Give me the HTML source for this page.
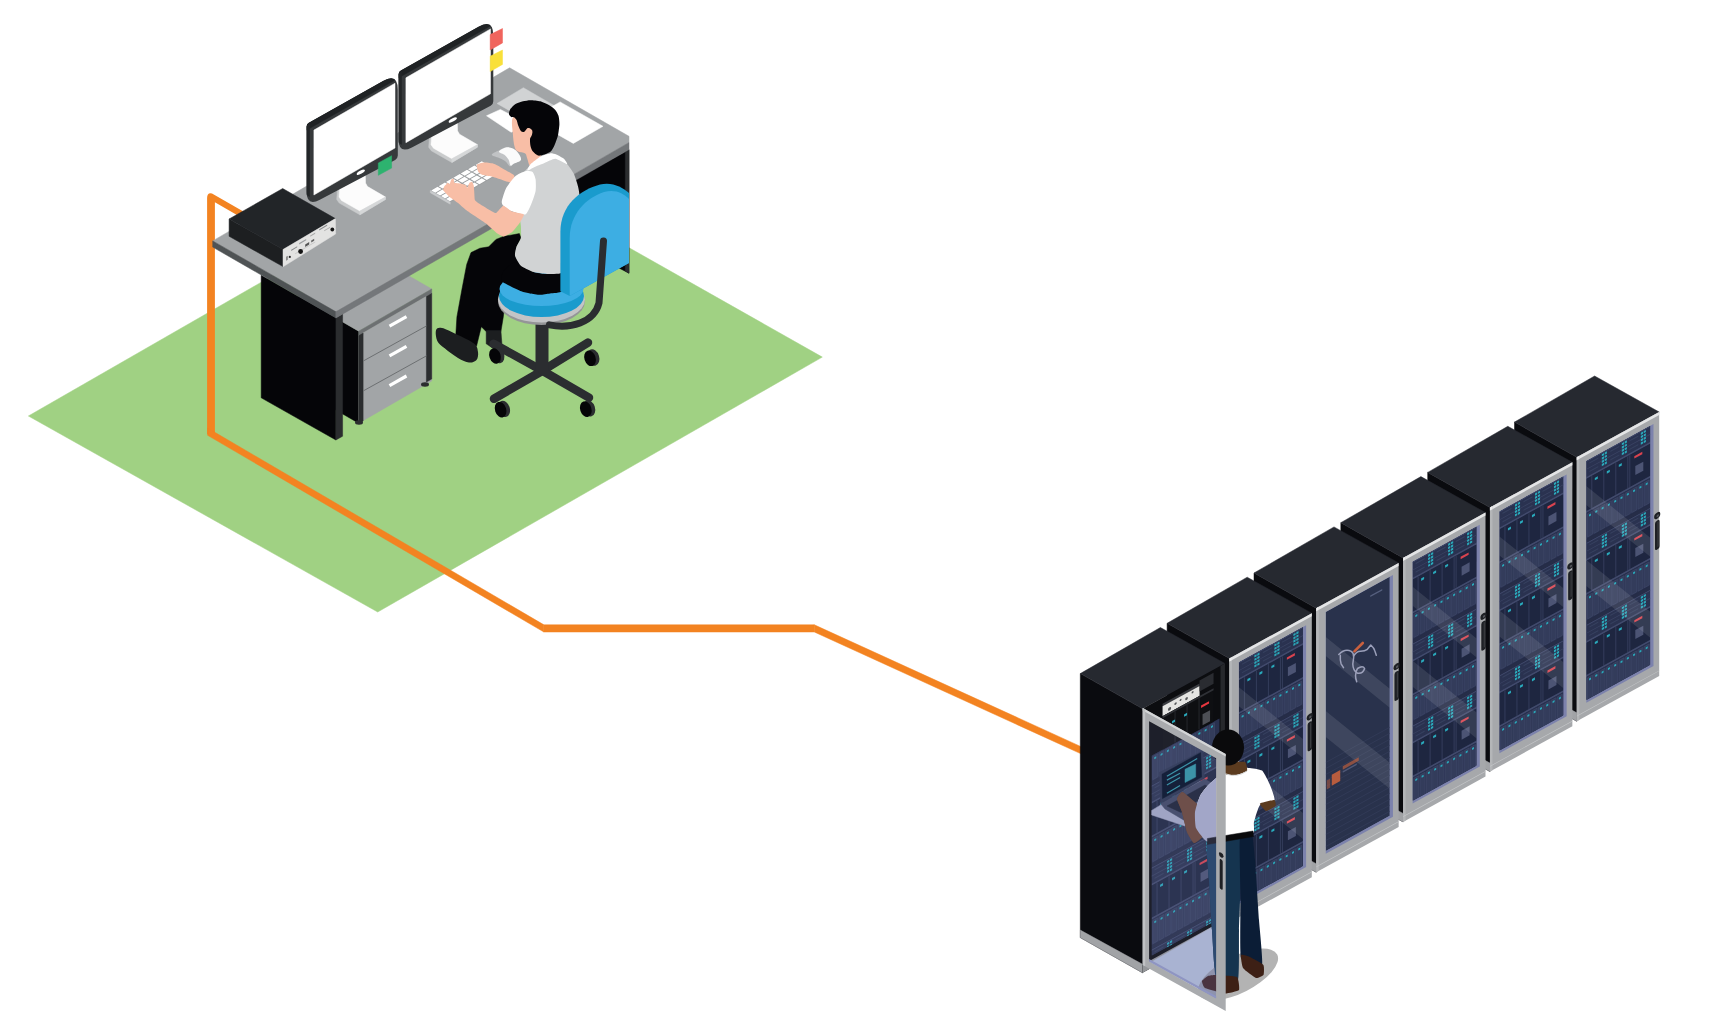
<!DOCTYPE html>
<html><head><meta charset="utf-8"><title>KVM extender scene</title><style>html,body{margin:0;padding:0;background:#fff;overflow:hidden;font-family:"Liberation Sans",sans-serif}svg{display:block}</style></head>
<body><svg width="1725" height="1023" viewBox="0 0 1725 1023">
<polygon points="28.4,416.0 474.0,160.0 822.3,357.1 377.7,612.0" fill="#a0d183"  stroke="#a0d183" stroke-width="0.5" stroke-linejoin="round"/>
<path d="M207.1,434 V198 Q207.1,192.2 212,193.4 L258,220 L258,227.2 L214.9,202.3 V434 Z" fill="#f38321"/>
<polygon points="207.6,428.1 543.5,624.6 543.5,631.8 207.6,435.3" fill="#f38321"  stroke="#f38321" stroke-width="0.5" stroke-linejoin="round"/>
<polygon points="543.5,624.8 814.3,624.8 814.3,632.0 543.5,632.0" fill="#f38321"  stroke="#f38321" stroke-width="0.5" stroke-linejoin="round"/>
<polygon points="814.3,624.8 1086.0,748.9 1086.0,756.1 814.3,632.0" fill="#f38321"  stroke="#f38321" stroke-width="0.5" stroke-linejoin="round"/>
<polygon points="515.0,214.0 629.0,149.6 629.0,273.2" fill="#050508"  stroke="#050508" stroke-width="0.5" stroke-linejoin="round"/>
<polygon points="625.3,151.6 629.0,149.6 629.0,273.2 625.3,271.0" fill="#2b2d2f"  stroke="#2b2d2f" stroke-width="0.5" stroke-linejoin="round"/>
<polygon points="298.7,296.6 358.7,331.2 358.7,423.2 298.7,388.6" fill="#050508"  stroke="#050508" stroke-width="0.5" stroke-linejoin="round"/>
<polygon points="298.7,296.6 371.7,254.4 431.7,289.0 358.7,331.2" fill="#a2a5a7"  stroke="#a2a5a7" stroke-width="0.5" stroke-linejoin="round"/>
<polygon points="358.7,331.2 431.7,289.0 431.7,293.5 358.7,335.7" fill="#6d7072"  stroke="#6d7072" stroke-width="0.5" stroke-linejoin="round"/>
<polygon points="358.7,335.5 431.7,293.3 431.7,381.0 358.7,423.2" fill="#a2a5a7"  stroke="#a2a5a7" stroke-width="0.5" stroke-linejoin="round"/>
<polygon points="358.7,335.5 363.1,333.0 363.1,421.0 358.7,423.5" fill="#2b2d2f"  stroke="#2b2d2f" stroke-width="0.5" stroke-linejoin="round"/>
<polygon points="426.4,296.4 431.7,293.3 431.7,379.0 426.4,382.0" fill="#2b2d2f"  stroke="#2b2d2f" stroke-width="0.5" stroke-linejoin="round"/>
<line x1="363.1" y1="361.1" x2="426.4" y2="326.0" stroke="#6d7072" stroke-width="1"/>
<line x1="363.1" y1="391.0" x2="426.4" y2="355.9" stroke="#6d7072" stroke-width="1"/>
<line x1="389.5" y1="326.2" x2="406.5" y2="316.6" stroke="#ffffff" stroke-width="3.2"/>
<line x1="389.5" y1="355.9" x2="406.5" y2="346.3" stroke="#ffffff" stroke-width="3.2"/>
<line x1="389.5" y1="385.6" x2="406.5" y2="376.0" stroke="#ffffff" stroke-width="3.2"/>
<polygon points="261.2,275.3 335.9,317.9 335.9,440.0 261.2,397.8" fill="#050508"  stroke="#050508" stroke-width="0.5" stroke-linejoin="round"/>
<polygon points="335.9,317.9 342.6,314.1 342.6,436.2 335.9,440.0" fill="#2b2d2f"  stroke="#2b2d2f" stroke-width="0.5" stroke-linejoin="round"/>
<ellipse cx="359" cy="422.5" rx="4" ry="2.2" fill="#2b2d2f"/>
<ellipse cx="425" cy="384.5" rx="4" ry="2.2" fill="#2b2d2f"/>
<polygon points="212.7,240.9 509.6,67.8 629.0,136.3 629.0,142.5 335.9,311.8" fill="#a2a5a7"  stroke="#a2a5a7" stroke-width="0.5" stroke-linejoin="round"/>
<polygon points="212.7,240.9 335.9,311.8 335.9,317.9 212.7,247.1" fill="#4f5355"  stroke="#4f5355" stroke-width="0.5" stroke-linejoin="round"/>
<polygon points="335.9,311.8 629.0,142.5 629.0,149.6 335.9,317.9" fill="#74777a"  stroke="#74777a" stroke-width="0.5" stroke-linejoin="round"/>
<polygon points="229.1,219.0 283.0,249.5 283.0,266.6 229.1,236.3" fill="#1d1f21"  stroke="#1d1f21" stroke-width="0.5" stroke-linejoin="round"/>
<polygon points="229.1,219.0 282.7,188.5 335.4,218.6 283.0,249.5" fill="#222528"  stroke="#222528" stroke-width="0.5" stroke-linejoin="round"/>
<polygon points="283.0,249.5 335.4,218.6 335.6,234.0 283.0,266.8" fill="#e3e3e2"  stroke="#e3e3e2" stroke-width="0.5" stroke-linejoin="round"/>
<g transform="matrix(1,-0.588,0,1,283.2,249.4)">
<rect x="8.0" y="5.0" width="6.0" height="1.2" fill="#8a8c8e"/>
<rect x="16.0" y="3.0" width="7.0" height="1.4" fill="#9a9c9e"/>
<rect x="27.0" y="2.0" width="5.0" height="1.2" fill="#aaaaaa"/>
<rect x="36.0" y="1.0" width="8.0" height="1.3" fill="#8a8c8e"/>
<rect x="41.0" y="5.0" width="6.0" height="1.0" fill="#b0b0b0"/>
<rect x="3.0" y="9.0" width="1.5" height="4.0" fill="#777"/>
<rect x="22.0" y="8.0" width="4.0" height="2.5" fill="#555"/>
<rect x="28.0" y="7.5" width="3.0" height="2.0" fill="#666"/>
<rect x="12.0" y="11.0" width="20.0" height="1.0" fill="#c8c8c8"/>
</g>
<circle cx="300.6" cy="251.5" r="2.4" fill="#141414"/>
<circle cx="289.8" cy="256.9" r="1.1" fill="#2a2a2a"/>
<circle cx="332.3" cy="229.5" r="1.9" fill="#141414"/>
<g transform="translate(92.0,-52.3)">
<polygon points="337.4,190.0 336.7,199.5 339.2,203.0 357.6,213.5 359.9,214.8 385.4,199.5 385.4,197.0 365.0,185.5 365.2,175.0" fill="#c9cbcc"  stroke="#c9cbcc" stroke-width="0.5" stroke-linejoin="round"/>
<polygon points="339.7,187.4 339.0,197.0 341.5,200.5 359.9,211.0 385.4,197.0 367.5,186.5 365.5,183.0 365.2,172.4" fill="#fcfcfc"  stroke="#fcfcfc" stroke-width="0.5" stroke-linejoin="round"/>
<polygon points="359.9,211.0 385.4,197.0 385.4,199.5 359.9,214.8" fill="#d5d7d8"  stroke="#d5d7d8" stroke-width="0.5" stroke-linejoin="round"/>
</g>
<defs><clipPath id="mon92"><path d="M398.60,74.30 Q398.60,71.80 400.78,70.57 L478.50,26.68 Q493.30,18.32 493.30,35.32 L493.30,101.27 Q493.30,104.27 490.65,105.68 L411.86,147.38 Q398.60,154.40 398.60,139.40 Z"/></clipPath></defs>
<path d="M398.60,74.30 Q398.60,71.80 400.78,70.57 L478.50,26.68 Q493.30,18.32 493.30,35.32 L493.30,101.27 Q493.30,104.27 490.65,105.68 L411.86,147.38 Q398.60,154.40 398.60,139.40 Z" fill="#36393b"/>
<g clip-path="url(#mon92)">
<polygon points="398.6,71.8 493.3,18.3 493.3,24.3 398.6,77.8" fill="#1f2224"  stroke="#1f2224" stroke-width="0.5" stroke-linejoin="round"/>
</g>
<path d="M398.60,74.70 Q398.60,73.70 399.36,73.06 L401.80,71.00 Q401.80,71.00 401.80,71.00 L401.80,144.70 Q401.80,144.70 401.80,144.70 L399.45,143.23 Q398.60,142.70 398.60,141.70 Z" fill="#232628"/>
<polygon points="405.9,77.8 490.5,28.9 490.5,93.8 405.9,142.7" fill="#ffffff"  stroke="#ffffff" stroke-width="0.5" stroke-linejoin="round"/>
<ellipse cx="452.8" cy="119.9" rx="4.6" ry="1.6" transform="rotate(-29 452.8 119.9)" fill="#ffffff"/>
<polygon points="490.2,34.6 502.5,28.5 502.5,42.9 490.2,50.0" fill="#f0645d"  stroke="#f0645d" stroke-width="0.5" stroke-linejoin="round"/>
<polygon points="490.2,56.2 502.5,50.0 502.5,64.4 490.2,71.6" fill="#f9e03a"  stroke="#f9e03a" stroke-width="0.5" stroke-linejoin="round"/>
<g transform="translate(0.0,0.0)">
<polygon points="337.4,190.0 336.7,199.5 339.2,203.0 357.6,213.5 359.9,214.8 385.4,199.5 385.4,197.0 365.0,185.5 365.2,175.0" fill="#c9cbcc"  stroke="#c9cbcc" stroke-width="0.5" stroke-linejoin="round"/>
<polygon points="339.7,187.4 339.0,197.0 341.5,200.5 359.9,211.0 385.4,197.0 367.5,186.5 365.5,183.0 365.2,172.4" fill="#fcfcfc"  stroke="#fcfcfc" stroke-width="0.5" stroke-linejoin="round"/>
<polygon points="359.9,211.0 385.4,197.0 385.4,199.5 359.9,214.8" fill="#d5d7d8"  stroke="#d5d7d8" stroke-width="0.5" stroke-linejoin="round"/>
</g>
<defs><clipPath id="mon0"><path d="M306.60,126.60 Q306.60,124.10 308.78,122.87 L383.00,80.96 Q397.80,72.60 397.80,89.60 L397.80,155.50 Q397.80,158.50 395.15,159.90 L319.86,199.69 Q306.60,206.70 306.60,191.70 Z"/></clipPath></defs>
<path d="M306.60,126.60 Q306.60,124.10 308.78,122.87 L383.00,80.96 Q397.80,72.60 397.80,89.60 L397.80,155.50 Q397.80,158.50 395.15,159.90 L319.86,199.69 Q306.60,206.70 306.60,191.70 Z" fill="#36393b"/>
<g clip-path="url(#mon0)">
<polygon points="306.6,124.1 397.8,72.6 397.8,78.6 306.6,130.1" fill="#1f2224"  stroke="#1f2224" stroke-width="0.5" stroke-linejoin="round"/>
</g>
<path d="M306.60,127.00 Q306.60,126.00 307.36,125.36 L309.80,123.30 Q309.80,123.30 309.80,123.30 L309.80,197.00 Q309.80,197.00 309.80,197.00 L307.45,195.53 Q306.60,195.00 306.60,194.00 Z" fill="#232628"/>
<polygon points="313.9,130.1 395.0,83.2 395.0,148.0 313.9,195.0" fill="#ffffff"  stroke="#ffffff" stroke-width="0.5" stroke-linejoin="round"/>
<ellipse cx="360.8" cy="172.2" rx="4.6" ry="1.6" transform="rotate(-29 360.8 172.2)" fill="#ffffff"/>
<polygon points="378.3,163.0 391.6,155.7 391.6,168.1 378.3,175.3" fill="#2db36f"  stroke="#2db36f" stroke-width="0.5" stroke-linejoin="round"/>
<polygon points="497.0,103.5 523.4,87.7 566.4,112.7 540.0,128.0" fill="#d1d3d4"  stroke="#d1d3d4" stroke-width="0.5" stroke-linejoin="round"/>
<polygon points="486.5,115.8 500.4,109.4 528.0,124.0 511.2,132.3" fill="#ffffff"  stroke="#ffffff" stroke-width="0.5" stroke-linejoin="round"/>
<polygon points="560.1,101.9 603.0,126.3 573.3,143.4 530.3,119.0" fill="#ffffff"  stroke="#ffffff" stroke-width="0.5" stroke-linejoin="round"/>
<g transform="matrix(0.866,-0.5,0.866,0.5,430.3,190.4)">
<rect x="0" y="0" width="59.5" height="23" fill="#9a9d9f"/>
<rect x="0.5" y="0.6" width="7.3" height="4.6" fill="#ffffff"/>
<rect x="9.0" y="0.6" width="7.3" height="4.6" fill="#ffffff"/>
<rect x="17.5" y="0.6" width="7.3" height="4.6" fill="#ffffff"/>
<rect x="26.0" y="0.6" width="7.3" height="4.6" fill="#ffffff"/>
<rect x="34.5" y="0.6" width="7.3" height="4.6" fill="#ffffff"/>
<rect x="43.0" y="0.6" width="7.3" height="4.6" fill="#ffffff"/>
<rect x="51.5" y="0.6" width="7.3" height="4.6" fill="#ffffff"/>
<rect x="0.5" y="6.2" width="7.3" height="4.6" fill="#ffffff"/>
<rect x="9.0" y="6.2" width="7.3" height="4.6" fill="#ffffff"/>
<rect x="17.5" y="6.2" width="7.3" height="4.6" fill="#ffffff"/>
<rect x="26.0" y="6.2" width="7.3" height="4.6" fill="#ffffff"/>
<rect x="34.5" y="6.2" width="7.3" height="4.6" fill="#ffffff"/>
<rect x="43.0" y="6.2" width="7.3" height="4.6" fill="#ffffff"/>
<rect x="51.5" y="6.2" width="7.3" height="4.6" fill="#ffffff"/>
<rect x="0.5" y="11.9" width="7.3" height="4.6" fill="#ffffff"/>
<rect x="9.0" y="11.9" width="7.3" height="4.6" fill="#ffffff"/>
<rect x="17.5" y="11.9" width="7.3" height="4.6" fill="#ffffff"/>
<rect x="26.0" y="11.9" width="7.3" height="4.6" fill="#ffffff"/>
<rect x="34.5" y="11.9" width="7.3" height="4.6" fill="#ffffff"/>
<rect x="43.0" y="11.9" width="7.3" height="4.6" fill="#ffffff"/>
<rect x="51.5" y="11.9" width="7.3" height="4.6" fill="#ffffff"/>
<rect x="0.5" y="17.6" width="7.3" height="4.6" fill="#ffffff"/>
<rect x="9.0" y="17.6" width="7.3" height="4.6" fill="#ffffff"/>
<rect x="17.5" y="17.6" width="7.3" height="4.6" fill="#ffffff"/>
<rect x="26.0" y="17.6" width="7.3" height="4.6" fill="#ffffff"/>
<rect x="34.5" y="17.6" width="7.3" height="4.6" fill="#ffffff"/>
<rect x="43.0" y="17.6" width="7.3" height="4.6" fill="#ffffff"/>
<rect x="51.5" y="17.6" width="7.3" height="4.6" fill="#ffffff"/>
</g>
<polygon points="430.3,190.4 450.2,201.9 450.2,204.2 430.3,192.7" fill="#c9cbcd"  stroke="#c9cbcd" stroke-width="0.5" stroke-linejoin="round"/>
<path d="M491.8,154.5 C492.1,153.2 497.6,151.2 500.0,150.0 C502.4,148.8 503.8,147.8 506.0,147.6 C508.2,147.4 510.9,147.9 513.0,149.0 C515.1,150.1 517.2,152.2 518.5,154.0 C519.8,155.8 521.6,158.3 520.9,159.9 C520.1,161.5 515.8,162.4 514.0,163.5 C512.2,164.6 511.6,166.7 510.1,166.3 C508.6,165.9 507.0,162.5 505.0,161.0 C503.0,159.5 500.2,158.6 498.0,157.5 C495.8,156.4 491.5,155.8 491.8,154.5 Z" fill="#c1c3c5" />
<path d="M499.0,151.5 C499.3,150.3 503.5,148.0 505.8,147.5 C508.1,147.0 510.9,147.6 513.0,148.6 C515.1,149.6 517.2,151.6 518.5,153.5 C519.8,155.4 521.6,158.2 520.9,159.9 C520.1,161.6 515.7,162.6 514.0,163.5 C512.3,164.4 511.4,166.2 510.5,165.5 C509.6,164.8 509.6,161.3 508.5,159.5 C507.4,157.7 505.6,155.8 504.0,154.5 C502.4,153.2 498.7,152.7 499.0,151.5 Z" fill="#fbfbfb" />
<polygon points="471.0,252.6 479.9,248.2 488.7,246.8 496.0,239.4 503.3,236.5 519.4,233.6 520.9,238.0 516.5,246.8 515.0,255.6 520.9,265.8 532.6,271.7 547.3,273.9 562.0,273.0 562.0,292.0 532.6,292.0 510.0,290.0 505.8,294.9 503.3,316.9 500.9,331.6 486.2,331.6 481.3,326.7 476.5,346.3 455.7,336.5 456.9,316.9 461.8,290.0 466.7,264.4" fill="#050508"  stroke="#050508" stroke-width="0.5" stroke-linejoin="round"/>
<path d="M436.1,330.1 C436.9,328.0 438.5,327.3 442.0,328.0 C445.5,328.7 451.6,331.9 456.9,334.5 C462.2,337.1 470.5,340.6 474.0,343.5 C477.5,346.4 477.6,349.2 478.0,352.0 C478.4,354.8 478.0,358.2 476.5,360.0 C475.0,361.8 472.1,362.8 469.0,362.5 C465.9,362.2 462.1,360.4 458.0,358.0 C453.9,355.6 448.1,351.2 444.7,348.3 C441.2,345.4 438.7,343.9 437.3,340.9 C435.9,337.9 435.3,332.2 436.1,330.1 Z" fill="#1c1e20" />
<polygon points="486.2,330.4 500.9,330.4 502.1,346.3 493.6,348.7 486.2,343.8" fill="#1c1e20"  stroke="#1c1e20" stroke-width="0.5" stroke-linejoin="round"/>
<g stroke="#2b2d30" stroke-width="8.5" stroke-linecap="round">
<line x1="542.5" y1="370.7" x2="493.5" y2="343.8"/>
<line x1="542.5" y1="370.7" x2="588.0" y2="342.6"/>
<line x1="542.5" y1="370.7" x2="494.0" y2="398.8"/>
<line x1="542.5" y1="370.7" x2="589.0" y2="397.6"/>
</g>
<rect x="535.5" y="315" width="13" height="56" fill="#2b2d30"/>
<ellipse cx="498.2" cy="355.2" rx="6" ry="8.3" transform="rotate(-18 498.2 355.2)" fill="#2b2d30"/>
<ellipse cx="495.0" cy="356.0" rx="5.6" ry="8" transform="rotate(-18 495.0 356.0)" fill="#050507"/>
<ellipse cx="593.2" cy="357.5" rx="6" ry="8.3" transform="rotate(-18 593.2 357.5)" fill="#2b2d30"/>
<ellipse cx="590.0" cy="358.3" rx="5.6" ry="8" transform="rotate(-18 590.0 358.3)" fill="#050507"/>
<ellipse cx="503.8" cy="408.9" rx="6" ry="8.3" transform="rotate(-18 503.8 408.9)" fill="#2b2d30"/>
<ellipse cx="500.6" cy="409.7" rx="5.6" ry="8" transform="rotate(-18 500.6 409.7)" fill="#050507"/>
<ellipse cx="589.0" cy="408.4" rx="6" ry="8.3" transform="rotate(-18 589.0 408.4)" fill="#2b2d30"/>
<ellipse cx="585.8" cy="409.2" rx="5.6" ry="8" transform="rotate(-18 585.8 409.2)" fill="#050507"/>
<ellipse cx="541.5" cy="301" rx="43.5" ry="24" fill="#949597"/>
<ellipse cx="541.5" cy="299.5" rx="43.5" ry="23" fill="#c3c4c6"/>
<ellipse cx="541.5" cy="296" rx="42.5" ry="21" fill="#1a9bcd"/>
<ellipse cx="541.5" cy="289" rx="42" ry="17" fill="#3daee3"/>
<path d="M501.7,281.1 C501.0,279.7 501.7,273.9 503.0,272.0 C504.3,270.1 512.0,262.0 515.0,262.0 C518.0,262.0 529.4,270.5 532.6,271.7 C535.8,272.9 544.4,273.8 547.3,273.9 C550.2,274.0 560.5,271.3 562.0,273.0 C563.5,274.7 563.2,288.9 562.0,291.0 C560.8,293.1 552.2,293.1 550.0,293.5 C547.8,293.9 542.0,294.8 540.0,294.8 C538.0,294.8 531.9,293.9 530.0,293.5 C528.1,293.1 523.3,292.1 521.3,291.3 C519.3,290.6 512.0,287.0 510.0,286.0 C508.0,285.0 502.4,282.5 501.7,281.1 Z" fill="#050508" />
<path d="M512.3,119.0 C511.4,122.2 512.4,128.5 512.8,133.0 C513.1,137.5 513.6,142.8 514.4,145.9 C515.2,149.0 515.8,150.1 517.6,151.3 C519.4,152.6 523.6,152.2 525.2,153.4 C526.8,154.7 526.4,156.7 527.3,158.8 C528.2,160.9 528.7,165.8 530.5,166.0 C532.3,166.2 536.4,162.0 538.1,160.0 C539.9,158.0 541.5,157.3 541.0,154.0 C540.5,150.7 537.2,145.0 535.0,140.0 C532.8,135.0 530.8,128.3 528.0,124.0 C525.2,119.7 520.6,114.8 518.0,114.0 C515.4,113.2 513.2,115.8 512.3,119.0 Z" fill="#f8bea6" />
<path d="M509.0,114.2 C508.9,113.3 509.3,110.6 510.1,109.4 C510.9,108.2 514.0,104.9 515.5,104.0 C517.0,103.1 521.2,101.7 523.0,101.3 C524.8,100.9 528.5,100.2 530.5,100.2 C532.5,100.2 538.1,100.7 540.2,101.3 C542.3,101.9 547.0,104.0 548.8,105.0 C550.6,106.0 554.2,108.6 555.3,109.9 C556.4,111.2 558.0,114.1 558.5,115.8 C559.0,117.5 559.5,122.1 559.4,124.4 C559.3,126.7 558.5,132.8 558.0,135.2 C557.5,137.6 555.5,142.9 554.7,144.8 C553.9,146.7 552.2,150.2 551.0,151.3 C549.8,152.4 546.0,154.0 544.5,154.5 C543.0,155.0 539.4,156.0 538.0,155.6 C536.6,155.2 533.6,152.4 532.7,151.3 C531.8,150.2 530.8,147.3 530.5,145.9 C530.2,144.5 529.9,141.0 530.0,139.5 C530.1,138.0 531.1,134.3 531.2,133.0 C531.3,131.7 531.0,129.3 530.5,128.7 C530.0,128.1 528.0,127.8 527.3,128.2 C526.6,128.6 524.8,131.6 524.1,131.9 C523.4,132.2 521.6,131.6 520.9,130.9 C520.2,130.2 518.7,126.8 518.2,125.5 C517.7,124.2 517.0,121.0 516.6,120.1 C516.2,119.2 515.0,117.8 514.4,117.4 C513.8,117.0 511.8,117.3 511.2,116.9 C510.6,116.5 509.1,115.1 509.0,114.2 Z" fill="#050508" />
<ellipse cx="529" cy="133.5" rx="3.2" ry="4.8" transform="rotate(15 529 133.5)" fill="#f8bea6"/>
<path d="M476.9,164.7 C477.5,163.8 482.5,162.6 484.3,162.5 C486.1,162.4 492.3,163.1 494.5,163.9 C496.7,164.7 504.2,169.3 506.2,170.5 C508.2,171.7 513.9,174.5 514.3,175.7 C514.7,176.9 512.0,181.9 510.6,182.3 C509.2,182.7 502.3,179.9 500.4,179.3 C498.5,178.7 493.4,176.8 491.6,176.4 C489.8,176.0 484.1,175.3 482.8,174.9 C481.5,174.5 479.0,173.0 478.4,172.0 C477.8,171.0 476.3,165.6 476.9,164.7 Z" fill="#f8bea6" />
<path d="M528.2,167.6 C530.2,165.6 537.4,159.3 540.0,158.0 C542.6,156.7 552.0,153.9 554.6,154.4 C557.2,154.9 564.5,161.3 566.4,163.2 C568.3,165.1 572.5,171.2 573.7,173.5 C574.9,175.8 577.5,184.0 578.1,186.7 C578.7,189.3 579.8,194.7 579.6,200.0 C579.4,205.3 577.2,233.5 576.0,240.0 C574.8,246.5 569.5,261.7 568.0,265.0 C566.5,268.3 562.6,272.3 560.5,273.2 C558.4,274.1 550.1,274.0 547.3,273.9 C544.5,273.8 535.2,272.5 532.6,271.7 C530.0,270.9 522.7,267.4 520.9,265.8 C519.1,264.2 515.4,257.5 515.0,255.6 C514.6,253.7 515.9,248.6 516.5,246.8 C517.1,245.0 520.5,240.1 520.9,238.0 C521.3,235.9 521.0,228.4 520.9,226.2 C520.8,224.0 519.9,219.1 519.4,216.0 C518.9,212.9 515.9,198.8 516.0,195.0 C516.1,191.2 518.8,180.7 520.0,178.0 C521.2,175.3 526.2,169.6 528.2,167.6 Z" fill="#d1d3d4" />
<path d="M527.3,170.6 C527.0,170.3 529.2,165.6 530.5,164.2 C531.8,162.8 538.3,157.8 540.2,156.7 C542.1,155.6 548.3,153.6 549.9,153.4 C551.5,153.2 554.9,154.0 556.3,154.5 C557.7,155.0 562.8,157.8 563.9,158.8 C565.0,159.8 568.0,164.2 567.1,164.2 C566.2,164.2 557.6,158.9 555.3,158.8 C553.0,158.7 546.6,162.2 544.5,163.1 C542.4,164.0 535.5,166.7 533.8,167.4 C532.1,168.2 527.6,170.9 527.3,170.6 Z" fill="#ffffff" />
<path d="M501.8,201.3 C502.1,199.5 504.9,190.6 506.2,188.1 C507.5,185.6 513.1,178.1 515.0,176.4 C516.9,174.7 523.5,171.7 525.3,171.3 C527.1,170.9 531.6,171.2 532.6,172.0 C533.6,172.8 535.3,177.4 535.6,179.3 C535.9,181.2 536.0,188.6 535.6,191.1 C535.2,193.6 532.2,202.0 531.2,204.3 C530.2,206.6 527.2,213.8 525.3,214.5 C523.4,215.2 514.3,212.5 512.1,211.6 C509.9,210.7 504.3,206.7 503.3,205.7 C502.3,204.7 501.5,203.1 501.8,201.3 Z" fill="#ffffff" />
<path d="M443.2,189.9 C443.2,189.5 444.1,186.7 444.3,186.3 C444.5,185.9 445.9,184.8 446.1,184.6 C446.3,184.4 447.1,182.8 447.3,182.8 C447.5,182.8 449.3,184.2 449.6,184.0 C449.9,183.8 451.1,179.7 451.4,179.3 C451.7,178.9 453.5,178.5 453.7,178.7 C453.9,178.9 453.9,182.5 454.3,182.8 C454.7,183.1 459.2,183.3 460.0,183.5 C460.8,183.7 465.5,184.9 466.0,185.2 C466.5,185.5 467.0,188.3 467.2,188.1 C467.4,187.9 469.2,183.2 469.5,182.8 C469.8,182.4 471.6,181.5 471.9,181.7 C472.2,181.9 473.5,184.6 473.7,185.2 C473.9,185.8 474.1,190.0 474.2,191.0 C474.3,192.0 474.6,199.0 474.8,199.8 C475.0,200.6 476.8,202.1 477.8,202.8 C478.8,203.5 488.3,209.3 489.5,210.0 C490.7,210.7 495.1,213.3 496.0,213.0 C496.9,212.7 502.2,205.8 503.3,205.7 C504.4,205.6 510.7,211.0 512.1,211.6 C513.5,212.2 523.3,213.7 523.8,214.5 C524.3,215.3 520.2,222.1 519.4,223.3 C518.6,224.5 513.2,231.2 512.1,232.1 C511.0,233.0 504.3,236.4 503.3,236.5 C502.3,236.6 498.6,234.5 497.4,233.6 C496.2,232.7 487.8,224.9 485.7,223.3 C483.6,221.7 467.9,211.4 466.0,210.0 C464.1,208.6 458.9,203.7 457.8,202.8 C456.7,201.9 450.5,197.6 449.6,196.9 C448.7,196.2 445.3,192.7 444.9,192.2 C444.5,191.7 443.2,190.3 443.2,189.9 Z" fill="#f8bea6" />
<path d="M560.4,291.3 L560.4,232 C560.4,205 580,190 600,184.5 C612,181.5 622,187 629,193 L629,263 L569.7,296 Z" fill="#1a9bcd"/>
<path d="M569.7,296 L569.7,238 C569.7,214 586,198 604,192 C615,189 623,193 629,199 L629,263 Z" fill="#3daee3"/>
<path d="M549.4,324.9 C570,329 594,323 599,303 L603.5,241" fill="none" stroke="#2b2d30" stroke-width="7" stroke-linecap="round"/>
<polygon points="1514.5,422.1 1576.8,457.3 1576.8,721.3 1514.5,686.1" fill="#0a0b0f"  stroke="#0a0b0f" stroke-width="0.5" stroke-linejoin="round"/>
<polygon points="1514.5,678.6 1576.8,712.8 1576.8,721.3 1514.5,686.1" fill="#a1a3a6"  stroke="#a1a3a6" stroke-width="0.5" stroke-linejoin="round"/>
<polygon points="1514.5,422.1 1594.6,376.0 1659.2,412.0 1576.8,457.3" fill="#262930"  stroke="#262930" stroke-width="0.5" stroke-linejoin="round"/>
<g transform="matrix(1,-0.550,0,1,1576.80,457.30)">
<rect x="0" y="0" width="82.4" height="264.0" fill="#a6a8ab"/>
<rect x="0" y="0" width="82.4" height="3" fill="#e4e5e6"/>
<rect x="0" y="0" width="2.5" height="264.0" fill="#b4b6b8"/>
<rect x="0" y="0" width="2.5" height="3" fill="#eeeeef"/>
<rect x="0" y="258.4" width="82.4" height="0.7" fill="#c4c6c8"/>
<rect x="9.5" y="9.0" width="67.2" height="241.8" fill="#7c82ac"/>
<svg x="9.5" y="9.0" width="64.0" height="239.0" overflow="hidden">
<rect x="0" y="0" width="64.0" height="239.0" fill="#222a44"/>
<rect x="0" y="-0.0" width="64.0" height="16" fill="#2a3250"/>
<rect x="0" y="-0.0" width="64.0" height="1" fill="#414a6c"/>
<rect x="0" y="8.0" width="64.0" height="0.8" fill="#3a4363"/>
<rect x="15.5" y="1.6" width="2.2" height="2.2" fill="#2aa9bb"/>
<rect x="18.4" y="1.6" width="2.2" height="2.2" fill="#2aa9bb"/>
<rect x="15.5" y="4.9" width="2.2" height="2.2" fill="#2aa9bb"/>
<rect x="18.4" y="4.9" width="2.2" height="2.2" fill="#2aa9bb"/>
<rect x="15.5" y="8.2" width="2.2" height="2.2" fill="#2aa9bb"/>
<rect x="18.4" y="8.2" width="2.2" height="2.2" fill="#2aa9bb"/>
<rect x="15.5" y="11.5" width="2.2" height="2.2" fill="#2aa9bb"/>
<rect x="18.4" y="11.5" width="2.2" height="2.2" fill="#2aa9bb"/>
<rect x="35.5" y="1.6" width="2.2" height="2.2" fill="#2aa9bb"/>
<rect x="38.4" y="1.6" width="2.2" height="2.2" fill="#2aa9bb"/>
<rect x="35.5" y="4.9" width="2.2" height="2.2" fill="#2aa9bb"/>
<rect x="38.4" y="4.9" width="2.2" height="2.2" fill="#2aa9bb"/>
<rect x="35.5" y="8.2" width="2.2" height="2.2" fill="#2aa9bb"/>
<rect x="38.4" y="8.2" width="2.2" height="2.2" fill="#2aa9bb"/>
<rect x="35.5" y="11.5" width="2.2" height="2.2" fill="#2aa9bb"/>
<rect x="38.4" y="11.5" width="2.2" height="2.2" fill="#2aa9bb"/>
<rect x="54.5" y="1.6" width="2.2" height="2.2" fill="#2aa9bb"/>
<rect x="57.4" y="1.6" width="2.2" height="2.2" fill="#2aa9bb"/>
<rect x="54.5" y="4.9" width="2.2" height="2.2" fill="#2aa9bb"/>
<rect x="57.4" y="4.9" width="2.2" height="2.2" fill="#2aa9bb"/>
<rect x="54.5" y="8.2" width="2.2" height="2.2" fill="#2aa9bb"/>
<rect x="57.4" y="8.2" width="2.2" height="2.2" fill="#2aa9bb"/>
<rect x="54.5" y="11.5" width="2.2" height="2.2" fill="#2aa9bb"/>
<rect x="57.4" y="11.5" width="2.2" height="2.2" fill="#2aa9bb"/>
<rect x="3.0" y="3.0" width="9" height="1.2" fill="#36405f"/>
<rect x="3.0" y="11.5" width="9" height="1.2" fill="#36405f"/>
<rect x="24.0" y="3.0" width="9" height="1.2" fill="#36405f"/>
<rect x="24.0" y="11.5" width="9" height="1.2" fill="#36405f"/>
<rect x="43.0" y="3.0" width="9" height="1.2" fill="#36405f"/>
<rect x="43.0" y="11.5" width="9" height="1.2" fill="#36405f"/>
<rect x="0" y="16.0" width="64.0" height="2" fill="#414a6c"/>
<rect x="0" y="18.0" width="64.0" height="32" fill="#1e2640"/>
<rect x="5.0" y="18.0" width="1" height="32" fill="#343d5c"/>
<rect x="17.0" y="18.0" width="1" height="32" fill="#343d5c"/>
<rect x="29.0" y="18.0" width="1" height="32" fill="#343d5c"/>
<rect x="41.0" y="18.0" width="1" height="32" fill="#343d5c"/>
<rect x="43.0" y="18.0" width="1" height="32" fill="#343d5c"/>
<rect x="8.5" y="21.5" width="3" height="2.4" fill="#2aa9bb"/>
<rect x="20.5" y="21.5" width="3" height="2.4" fill="#2aa9bb"/>
<rect x="32.5" y="21.5" width="3" height="2.4" fill="#2aa9bb"/>
<rect x="48" y="21.5" width="8" height="2.4" fill="#d9434f"/>
<rect x="49" y="32.0" width="8" height="9" fill="#4c5474"/>
<rect x="0" y="50.0" width="64.0" height="2" fill="#414a6c"/>
<rect x="0" y="52.0" width="64.0" height="26" fill="#29314f"/>
<rect x="1.2" y="53.5" width="5" height="23" fill="#333c5b" stroke="#3f4869" stroke-width="0.6"/>
<rect x="2.7" y="55.0" width="2" height="2" fill="#2aa9bb"/>
<rect x="7.5" y="53.5" width="5" height="23" fill="#333c5b" stroke="#3f4869" stroke-width="0.6"/>
<rect x="9.0" y="55.0" width="2" height="2" fill="#2aa9bb"/>
<rect x="13.8" y="53.5" width="5" height="23" fill="#333c5b" stroke="#3f4869" stroke-width="0.6"/>
<rect x="15.3" y="55.0" width="2" height="2" fill="#2aa9bb"/>
<rect x="20.1" y="53.5" width="5" height="23" fill="#333c5b" stroke="#3f4869" stroke-width="0.6"/>
<rect x="21.6" y="55.0" width="2" height="2" fill="#2aa9bb"/>
<rect x="26.4" y="53.5" width="5" height="23" fill="#333c5b" stroke="#3f4869" stroke-width="0.6"/>
<rect x="27.9" y="55.0" width="2" height="2" fill="#2aa9bb"/>
<rect x="32.7" y="53.5" width="5" height="23" fill="#333c5b" stroke="#3f4869" stroke-width="0.6"/>
<rect x="34.2" y="55.0" width="2" height="2" fill="#2aa9bb"/>
<rect x="39.0" y="53.5" width="5" height="23" fill="#333c5b" stroke="#3f4869" stroke-width="0.6"/>
<rect x="40.5" y="55.0" width="2" height="2" fill="#2aa9bb"/>
<rect x="45.3" y="53.5" width="5" height="23" fill="#333c5b" stroke="#3f4869" stroke-width="0.6"/>
<rect x="46.8" y="55.0" width="2" height="2" fill="#2aa9bb"/>
<rect x="51.6" y="53.5" width="5" height="23" fill="#333c5b" stroke="#3f4869" stroke-width="0.6"/>
<rect x="53.1" y="55.0" width="2" height="2" fill="#2aa9bb"/>
<rect x="57.9" y="53.5" width="5" height="23" fill="#333c5b" stroke="#3f4869" stroke-width="0.6"/>
<rect x="59.4" y="55.0" width="2" height="2" fill="#2aa9bb"/>
<rect x="0" y="78.0" width="64.0" height="4" fill="#262d48"/>
<rect x="0" y="82.0" width="64.0" height="16" fill="#2a3250"/>
<rect x="0" y="82.0" width="64.0" height="1" fill="#414a6c"/>
<rect x="0" y="90.0" width="64.0" height="0.8" fill="#3a4363"/>
<rect x="15.5" y="83.6" width="2.2" height="2.2" fill="#2aa9bb"/>
<rect x="18.4" y="83.6" width="2.2" height="2.2" fill="#2aa9bb"/>
<rect x="15.5" y="86.9" width="2.2" height="2.2" fill="#2aa9bb"/>
<rect x="18.4" y="86.9" width="2.2" height="2.2" fill="#2aa9bb"/>
<rect x="15.5" y="90.2" width="2.2" height="2.2" fill="#2aa9bb"/>
<rect x="18.4" y="90.2" width="2.2" height="2.2" fill="#2aa9bb"/>
<rect x="15.5" y="93.5" width="2.2" height="2.2" fill="#2aa9bb"/>
<rect x="18.4" y="93.5" width="2.2" height="2.2" fill="#2aa9bb"/>
<rect x="35.5" y="83.6" width="2.2" height="2.2" fill="#2aa9bb"/>
<rect x="38.4" y="83.6" width="2.2" height="2.2" fill="#2aa9bb"/>
<rect x="35.5" y="86.9" width="2.2" height="2.2" fill="#2aa9bb"/>
<rect x="38.4" y="86.9" width="2.2" height="2.2" fill="#2aa9bb"/>
<rect x="35.5" y="90.2" width="2.2" height="2.2" fill="#2aa9bb"/>
<rect x="38.4" y="90.2" width="2.2" height="2.2" fill="#2aa9bb"/>
<rect x="35.5" y="93.5" width="2.2" height="2.2" fill="#2aa9bb"/>
<rect x="38.4" y="93.5" width="2.2" height="2.2" fill="#2aa9bb"/>
<rect x="54.5" y="83.6" width="2.2" height="2.2" fill="#2aa9bb"/>
<rect x="57.4" y="83.6" width="2.2" height="2.2" fill="#2aa9bb"/>
<rect x="54.5" y="86.9" width="2.2" height="2.2" fill="#2aa9bb"/>
<rect x="57.4" y="86.9" width="2.2" height="2.2" fill="#2aa9bb"/>
<rect x="54.5" y="90.2" width="2.2" height="2.2" fill="#2aa9bb"/>
<rect x="57.4" y="90.2" width="2.2" height="2.2" fill="#2aa9bb"/>
<rect x="54.5" y="93.5" width="2.2" height="2.2" fill="#2aa9bb"/>
<rect x="57.4" y="93.5" width="2.2" height="2.2" fill="#2aa9bb"/>
<rect x="3.0" y="85.0" width="9" height="1.2" fill="#36405f"/>
<rect x="3.0" y="93.5" width="9" height="1.2" fill="#36405f"/>
<rect x="24.0" y="85.0" width="9" height="1.2" fill="#36405f"/>
<rect x="24.0" y="93.5" width="9" height="1.2" fill="#36405f"/>
<rect x="43.0" y="85.0" width="9" height="1.2" fill="#36405f"/>
<rect x="43.0" y="93.5" width="9" height="1.2" fill="#36405f"/>
<rect x="0" y="98.0" width="64.0" height="2" fill="#414a6c"/>
<rect x="0" y="100.0" width="64.0" height="32" fill="#1e2640"/>
<rect x="5.0" y="100.0" width="1" height="32" fill="#343d5c"/>
<rect x="17.0" y="100.0" width="1" height="32" fill="#343d5c"/>
<rect x="29.0" y="100.0" width="1" height="32" fill="#343d5c"/>
<rect x="41.0" y="100.0" width="1" height="32" fill="#343d5c"/>
<rect x="43.0" y="100.0" width="1" height="32" fill="#343d5c"/>
<rect x="8.5" y="103.5" width="3" height="2.4" fill="#2aa9bb"/>
<rect x="20.5" y="103.5" width="3" height="2.4" fill="#2aa9bb"/>
<rect x="32.5" y="103.5" width="3" height="2.4" fill="#2aa9bb"/>
<rect x="48" y="103.5" width="8" height="2.4" fill="#d9434f"/>
<rect x="49" y="114.0" width="8" height="9" fill="#4c5474"/>
<rect x="0" y="132.0" width="64.0" height="2" fill="#414a6c"/>
<rect x="0" y="134.0" width="64.0" height="26" fill="#29314f"/>
<rect x="1.2" y="135.5" width="5" height="23" fill="#333c5b" stroke="#3f4869" stroke-width="0.6"/>
<rect x="2.7" y="137.0" width="2" height="2" fill="#2aa9bb"/>
<rect x="7.5" y="135.5" width="5" height="23" fill="#333c5b" stroke="#3f4869" stroke-width="0.6"/>
<rect x="9.0" y="137.0" width="2" height="2" fill="#2aa9bb"/>
<rect x="13.8" y="135.5" width="5" height="23" fill="#333c5b" stroke="#3f4869" stroke-width="0.6"/>
<rect x="15.3" y="137.0" width="2" height="2" fill="#2aa9bb"/>
<rect x="20.1" y="135.5" width="5" height="23" fill="#333c5b" stroke="#3f4869" stroke-width="0.6"/>
<rect x="21.6" y="137.0" width="2" height="2" fill="#2aa9bb"/>
<rect x="26.4" y="135.5" width="5" height="23" fill="#333c5b" stroke="#3f4869" stroke-width="0.6"/>
<rect x="27.9" y="137.0" width="2" height="2" fill="#2aa9bb"/>
<rect x="32.7" y="135.5" width="5" height="23" fill="#333c5b" stroke="#3f4869" stroke-width="0.6"/>
<rect x="34.2" y="137.0" width="2" height="2" fill="#2aa9bb"/>
<rect x="39.0" y="135.5" width="5" height="23" fill="#333c5b" stroke="#3f4869" stroke-width="0.6"/>
<rect x="40.5" y="137.0" width="2" height="2" fill="#2aa9bb"/>
<rect x="45.3" y="135.5" width="5" height="23" fill="#333c5b" stroke="#3f4869" stroke-width="0.6"/>
<rect x="46.8" y="137.0" width="2" height="2" fill="#2aa9bb"/>
<rect x="51.6" y="135.5" width="5" height="23" fill="#333c5b" stroke="#3f4869" stroke-width="0.6"/>
<rect x="53.1" y="137.0" width="2" height="2" fill="#2aa9bb"/>
<rect x="57.9" y="135.5" width="5" height="23" fill="#333c5b" stroke="#3f4869" stroke-width="0.6"/>
<rect x="59.4" y="137.0" width="2" height="2" fill="#2aa9bb"/>
<rect x="0" y="160.0" width="64.0" height="4" fill="#262d48"/>
<rect x="0" y="164.0" width="64.0" height="16" fill="#2a3250"/>
<rect x="0" y="164.0" width="64.0" height="1" fill="#414a6c"/>
<rect x="0" y="172.0" width="64.0" height="0.8" fill="#3a4363"/>
<rect x="15.5" y="165.6" width="2.2" height="2.2" fill="#2aa9bb"/>
<rect x="18.4" y="165.6" width="2.2" height="2.2" fill="#2aa9bb"/>
<rect x="15.5" y="168.9" width="2.2" height="2.2" fill="#2aa9bb"/>
<rect x="18.4" y="168.9" width="2.2" height="2.2" fill="#2aa9bb"/>
<rect x="15.5" y="172.2" width="2.2" height="2.2" fill="#2aa9bb"/>
<rect x="18.4" y="172.2" width="2.2" height="2.2" fill="#2aa9bb"/>
<rect x="15.5" y="175.5" width="2.2" height="2.2" fill="#2aa9bb"/>
<rect x="18.4" y="175.5" width="2.2" height="2.2" fill="#2aa9bb"/>
<rect x="35.5" y="165.6" width="2.2" height="2.2" fill="#2aa9bb"/>
<rect x="38.4" y="165.6" width="2.2" height="2.2" fill="#2aa9bb"/>
<rect x="35.5" y="168.9" width="2.2" height="2.2" fill="#2aa9bb"/>
<rect x="38.4" y="168.9" width="2.2" height="2.2" fill="#2aa9bb"/>
<rect x="35.5" y="172.2" width="2.2" height="2.2" fill="#2aa9bb"/>
<rect x="38.4" y="172.2" width="2.2" height="2.2" fill="#2aa9bb"/>
<rect x="35.5" y="175.5" width="2.2" height="2.2" fill="#2aa9bb"/>
<rect x="38.4" y="175.5" width="2.2" height="2.2" fill="#2aa9bb"/>
<rect x="54.5" y="165.6" width="2.2" height="2.2" fill="#2aa9bb"/>
<rect x="57.4" y="165.6" width="2.2" height="2.2" fill="#2aa9bb"/>
<rect x="54.5" y="168.9" width="2.2" height="2.2" fill="#2aa9bb"/>
<rect x="57.4" y="168.9" width="2.2" height="2.2" fill="#2aa9bb"/>
<rect x="54.5" y="172.2" width="2.2" height="2.2" fill="#2aa9bb"/>
<rect x="57.4" y="172.2" width="2.2" height="2.2" fill="#2aa9bb"/>
<rect x="54.5" y="175.5" width="2.2" height="2.2" fill="#2aa9bb"/>
<rect x="57.4" y="175.5" width="2.2" height="2.2" fill="#2aa9bb"/>
<rect x="3.0" y="167.0" width="9" height="1.2" fill="#36405f"/>
<rect x="3.0" y="175.5" width="9" height="1.2" fill="#36405f"/>
<rect x="24.0" y="167.0" width="9" height="1.2" fill="#36405f"/>
<rect x="24.0" y="175.5" width="9" height="1.2" fill="#36405f"/>
<rect x="43.0" y="167.0" width="9" height="1.2" fill="#36405f"/>
<rect x="43.0" y="175.5" width="9" height="1.2" fill="#36405f"/>
<rect x="0" y="180.0" width="64.0" height="2" fill="#414a6c"/>
<rect x="0" y="182.0" width="64.0" height="32" fill="#1e2640"/>
<rect x="5.0" y="182.0" width="1" height="32" fill="#343d5c"/>
<rect x="17.0" y="182.0" width="1" height="32" fill="#343d5c"/>
<rect x="29.0" y="182.0" width="1" height="32" fill="#343d5c"/>
<rect x="41.0" y="182.0" width="1" height="32" fill="#343d5c"/>
<rect x="43.0" y="182.0" width="1" height="32" fill="#343d5c"/>
<rect x="8.5" y="185.5" width="3" height="2.4" fill="#2aa9bb"/>
<rect x="20.5" y="185.5" width="3" height="2.4" fill="#2aa9bb"/>
<rect x="32.5" y="185.5" width="3" height="2.4" fill="#2aa9bb"/>
<rect x="48" y="185.5" width="8" height="2.4" fill="#d9434f"/>
<rect x="49" y="196.0" width="8" height="9" fill="#4c5474"/>
<rect x="0" y="214.0" width="64.0" height="2" fill="#414a6c"/>
<rect x="0" y="216.0" width="64.0" height="26" fill="#29314f"/>
<rect x="1.2" y="217.5" width="5" height="23" fill="#333c5b" stroke="#3f4869" stroke-width="0.6"/>
<rect x="2.7" y="219.0" width="2" height="2" fill="#2aa9bb"/>
<rect x="7.5" y="217.5" width="5" height="23" fill="#333c5b" stroke="#3f4869" stroke-width="0.6"/>
<rect x="9.0" y="219.0" width="2" height="2" fill="#2aa9bb"/>
<rect x="13.8" y="217.5" width="5" height="23" fill="#333c5b" stroke="#3f4869" stroke-width="0.6"/>
<rect x="15.3" y="219.0" width="2" height="2" fill="#2aa9bb"/>
<rect x="20.1" y="217.5" width="5" height="23" fill="#333c5b" stroke="#3f4869" stroke-width="0.6"/>
<rect x="21.6" y="219.0" width="2" height="2" fill="#2aa9bb"/>
<rect x="26.4" y="217.5" width="5" height="23" fill="#333c5b" stroke="#3f4869" stroke-width="0.6"/>
<rect x="27.9" y="219.0" width="2" height="2" fill="#2aa9bb"/>
<rect x="32.7" y="217.5" width="5" height="23" fill="#333c5b" stroke="#3f4869" stroke-width="0.6"/>
<rect x="34.2" y="219.0" width="2" height="2" fill="#2aa9bb"/>
<rect x="39.0" y="217.5" width="5" height="23" fill="#333c5b" stroke="#3f4869" stroke-width="0.6"/>
<rect x="40.5" y="219.0" width="2" height="2" fill="#2aa9bb"/>
<rect x="45.3" y="217.5" width="5" height="23" fill="#333c5b" stroke="#3f4869" stroke-width="0.6"/>
<rect x="46.8" y="219.0" width="2" height="2" fill="#2aa9bb"/>
<rect x="51.6" y="217.5" width="5" height="23" fill="#333c5b" stroke="#3f4869" stroke-width="0.6"/>
<rect x="53.1" y="219.0" width="2" height="2" fill="#2aa9bb"/>
<rect x="57.9" y="217.5" width="5" height="23" fill="#333c5b" stroke="#3f4869" stroke-width="0.6"/>
<rect x="59.4" y="219.0" width="2" height="2" fill="#2aa9bb"/>
<rect x="0" y="242.0" width="64.0" height="4" fill="#262d48"/>
<polygon points="0,25.0 0,44.0 64.0,131.0 64.0,112.0" fill="#ffffff" fill-opacity="0.1"/>
<polygon points="0,99.0 0,125.0 64.0,212.0 64.0,186.0" fill="#ffffff" fill-opacity="0.1"/>
</svg>
<circle cx="80.4" cy="102.5" r="3.1" fill="#1e2024"/>
<circle cx="80.9" cy="103" r="1.2" fill="#55575c"/>
<rect x="78.2" y="107.5" width="4.6" height="29" rx="2" fill="#1e2024"/>
<rect x="80.6" y="109" width="1.2" height="25" fill="#3a3c40"/>
</g>
<polygon points="1427.7,472.4 1490.0,507.6 1490.0,771.6 1427.7,736.4" fill="#0a0b0f"  stroke="#0a0b0f" stroke-width="0.5" stroke-linejoin="round"/>
<polygon points="1427.7,728.9 1490.0,763.1 1490.0,771.6 1427.7,736.4" fill="#a1a3a6"  stroke="#a1a3a6" stroke-width="0.5" stroke-linejoin="round"/>
<polygon points="1427.7,472.4 1507.8,426.3 1572.4,462.3 1490.0,507.6" fill="#262930"  stroke="#262930" stroke-width="0.5" stroke-linejoin="round"/>
<g transform="matrix(1,-0.550,0,1,1489.95,507.60)">
<rect x="0" y="0" width="82.4" height="264.0" fill="#a6a8ab"/>
<rect x="0" y="0" width="82.4" height="3" fill="#e4e5e6"/>
<rect x="0" y="0" width="2.5" height="264.0" fill="#b4b6b8"/>
<rect x="0" y="0" width="2.5" height="3" fill="#eeeeef"/>
<rect x="0" y="258.4" width="82.4" height="0.7" fill="#c4c6c8"/>
<rect x="9.5" y="9.0" width="67.2" height="241.8" fill="#7c82ac"/>
<svg x="9.5" y="9.0" width="64.0" height="239.0" overflow="hidden">
<rect x="0" y="0" width="64.0" height="239.0" fill="#222a44"/>
<rect x="0" y="-0.0" width="64.0" height="16" fill="#2a3250"/>
<rect x="0" y="-0.0" width="64.0" height="1" fill="#414a6c"/>
<rect x="0" y="8.0" width="64.0" height="0.8" fill="#3a4363"/>
<rect x="15.5" y="1.6" width="2.2" height="2.2" fill="#2aa9bb"/>
<rect x="18.4" y="1.6" width="2.2" height="2.2" fill="#2aa9bb"/>
<rect x="15.5" y="4.9" width="2.2" height="2.2" fill="#2aa9bb"/>
<rect x="18.4" y="4.9" width="2.2" height="2.2" fill="#2aa9bb"/>
<rect x="15.5" y="8.2" width="2.2" height="2.2" fill="#2aa9bb"/>
<rect x="18.4" y="8.2" width="2.2" height="2.2" fill="#2aa9bb"/>
<rect x="15.5" y="11.5" width="2.2" height="2.2" fill="#2aa9bb"/>
<rect x="18.4" y="11.5" width="2.2" height="2.2" fill="#2aa9bb"/>
<rect x="35.5" y="1.6" width="2.2" height="2.2" fill="#2aa9bb"/>
<rect x="38.4" y="1.6" width="2.2" height="2.2" fill="#2aa9bb"/>
<rect x="35.5" y="4.9" width="2.2" height="2.2" fill="#2aa9bb"/>
<rect x="38.4" y="4.9" width="2.2" height="2.2" fill="#2aa9bb"/>
<rect x="35.5" y="8.2" width="2.2" height="2.2" fill="#2aa9bb"/>
<rect x="38.4" y="8.2" width="2.2" height="2.2" fill="#2aa9bb"/>
<rect x="35.5" y="11.5" width="2.2" height="2.2" fill="#2aa9bb"/>
<rect x="38.4" y="11.5" width="2.2" height="2.2" fill="#2aa9bb"/>
<rect x="54.5" y="1.6" width="2.2" height="2.2" fill="#2aa9bb"/>
<rect x="57.4" y="1.6" width="2.2" height="2.2" fill="#2aa9bb"/>
<rect x="54.5" y="4.9" width="2.2" height="2.2" fill="#2aa9bb"/>
<rect x="57.4" y="4.9" width="2.2" height="2.2" fill="#2aa9bb"/>
<rect x="54.5" y="8.2" width="2.2" height="2.2" fill="#2aa9bb"/>
<rect x="57.4" y="8.2" width="2.2" height="2.2" fill="#2aa9bb"/>
<rect x="54.5" y="11.5" width="2.2" height="2.2" fill="#2aa9bb"/>
<rect x="57.4" y="11.5" width="2.2" height="2.2" fill="#2aa9bb"/>
<rect x="3.0" y="3.0" width="9" height="1.2" fill="#36405f"/>
<rect x="3.0" y="11.5" width="9" height="1.2" fill="#36405f"/>
<rect x="24.0" y="3.0" width="9" height="1.2" fill="#36405f"/>
<rect x="24.0" y="11.5" width="9" height="1.2" fill="#36405f"/>
<rect x="43.0" y="3.0" width="9" height="1.2" fill="#36405f"/>
<rect x="43.0" y="11.5" width="9" height="1.2" fill="#36405f"/>
<rect x="0" y="16.0" width="64.0" height="2" fill="#414a6c"/>
<rect x="0" y="18.0" width="64.0" height="32" fill="#1e2640"/>
<rect x="5.0" y="18.0" width="1" height="32" fill="#343d5c"/>
<rect x="17.0" y="18.0" width="1" height="32" fill="#343d5c"/>
<rect x="29.0" y="18.0" width="1" height="32" fill="#343d5c"/>
<rect x="41.0" y="18.0" width="1" height="32" fill="#343d5c"/>
<rect x="43.0" y="18.0" width="1" height="32" fill="#343d5c"/>
<rect x="8.5" y="21.5" width="3" height="2.4" fill="#2aa9bb"/>
<rect x="20.5" y="21.5" width="3" height="2.4" fill="#2aa9bb"/>
<rect x="32.5" y="21.5" width="3" height="2.4" fill="#2aa9bb"/>
<rect x="48" y="21.5" width="8" height="2.4" fill="#d9434f"/>
<rect x="49" y="32.0" width="8" height="9" fill="#4c5474"/>
<rect x="0" y="50.0" width="64.0" height="2" fill="#414a6c"/>
<rect x="0" y="52.0" width="64.0" height="26" fill="#29314f"/>
<rect x="1.2" y="53.5" width="5" height="23" fill="#333c5b" stroke="#3f4869" stroke-width="0.6"/>
<rect x="2.7" y="55.0" width="2" height="2" fill="#2aa9bb"/>
<rect x="7.5" y="53.5" width="5" height="23" fill="#333c5b" stroke="#3f4869" stroke-width="0.6"/>
<rect x="9.0" y="55.0" width="2" height="2" fill="#2aa9bb"/>
<rect x="13.8" y="53.5" width="5" height="23" fill="#333c5b" stroke="#3f4869" stroke-width="0.6"/>
<rect x="15.3" y="55.0" width="2" height="2" fill="#2aa9bb"/>
<rect x="20.1" y="53.5" width="5" height="23" fill="#333c5b" stroke="#3f4869" stroke-width="0.6"/>
<rect x="21.6" y="55.0" width="2" height="2" fill="#2aa9bb"/>
<rect x="26.4" y="53.5" width="5" height="23" fill="#333c5b" stroke="#3f4869" stroke-width="0.6"/>
<rect x="27.9" y="55.0" width="2" height="2" fill="#2aa9bb"/>
<rect x="32.7" y="53.5" width="5" height="23" fill="#333c5b" stroke="#3f4869" stroke-width="0.6"/>
<rect x="34.2" y="55.0" width="2" height="2" fill="#2aa9bb"/>
<rect x="39.0" y="53.5" width="5" height="23" fill="#333c5b" stroke="#3f4869" stroke-width="0.6"/>
<rect x="40.5" y="55.0" width="2" height="2" fill="#2aa9bb"/>
<rect x="45.3" y="53.5" width="5" height="23" fill="#333c5b" stroke="#3f4869" stroke-width="0.6"/>
<rect x="46.8" y="55.0" width="2" height="2" fill="#2aa9bb"/>
<rect x="51.6" y="53.5" width="5" height="23" fill="#333c5b" stroke="#3f4869" stroke-width="0.6"/>
<rect x="53.1" y="55.0" width="2" height="2" fill="#2aa9bb"/>
<rect x="57.9" y="53.5" width="5" height="23" fill="#333c5b" stroke="#3f4869" stroke-width="0.6"/>
<rect x="59.4" y="55.0" width="2" height="2" fill="#2aa9bb"/>
<rect x="0" y="78.0" width="64.0" height="4" fill="#262d48"/>
<rect x="0" y="82.0" width="64.0" height="16" fill="#2a3250"/>
<rect x="0" y="82.0" width="64.0" height="1" fill="#414a6c"/>
<rect x="0" y="90.0" width="64.0" height="0.8" fill="#3a4363"/>
<rect x="15.5" y="83.6" width="2.2" height="2.2" fill="#2aa9bb"/>
<rect x="18.4" y="83.6" width="2.2" height="2.2" fill="#2aa9bb"/>
<rect x="15.5" y="86.9" width="2.2" height="2.2" fill="#2aa9bb"/>
<rect x="18.4" y="86.9" width="2.2" height="2.2" fill="#2aa9bb"/>
<rect x="15.5" y="90.2" width="2.2" height="2.2" fill="#2aa9bb"/>
<rect x="18.4" y="90.2" width="2.2" height="2.2" fill="#2aa9bb"/>
<rect x="15.5" y="93.5" width="2.2" height="2.2" fill="#2aa9bb"/>
<rect x="18.4" y="93.5" width="2.2" height="2.2" fill="#2aa9bb"/>
<rect x="35.5" y="83.6" width="2.2" height="2.2" fill="#2aa9bb"/>
<rect x="38.4" y="83.6" width="2.2" height="2.2" fill="#2aa9bb"/>
<rect x="35.5" y="86.9" width="2.2" height="2.2" fill="#2aa9bb"/>
<rect x="38.4" y="86.9" width="2.2" height="2.2" fill="#2aa9bb"/>
<rect x="35.5" y="90.2" width="2.2" height="2.2" fill="#2aa9bb"/>
<rect x="38.4" y="90.2" width="2.2" height="2.2" fill="#2aa9bb"/>
<rect x="35.5" y="93.5" width="2.2" height="2.2" fill="#2aa9bb"/>
<rect x="38.4" y="93.5" width="2.2" height="2.2" fill="#2aa9bb"/>
<rect x="54.5" y="83.6" width="2.2" height="2.2" fill="#2aa9bb"/>
<rect x="57.4" y="83.6" width="2.2" height="2.2" fill="#2aa9bb"/>
<rect x="54.5" y="86.9" width="2.2" height="2.2" fill="#2aa9bb"/>
<rect x="57.4" y="86.9" width="2.2" height="2.2" fill="#2aa9bb"/>
<rect x="54.5" y="90.2" width="2.2" height="2.2" fill="#2aa9bb"/>
<rect x="57.4" y="90.2" width="2.2" height="2.2" fill="#2aa9bb"/>
<rect x="54.5" y="93.5" width="2.2" height="2.2" fill="#2aa9bb"/>
<rect x="57.4" y="93.5" width="2.2" height="2.2" fill="#2aa9bb"/>
<rect x="3.0" y="85.0" width="9" height="1.2" fill="#36405f"/>
<rect x="3.0" y="93.5" width="9" height="1.2" fill="#36405f"/>
<rect x="24.0" y="85.0" width="9" height="1.2" fill="#36405f"/>
<rect x="24.0" y="93.5" width="9" height="1.2" fill="#36405f"/>
<rect x="43.0" y="85.0" width="9" height="1.2" fill="#36405f"/>
<rect x="43.0" y="93.5" width="9" height="1.2" fill="#36405f"/>
<rect x="0" y="98.0" width="64.0" height="2" fill="#414a6c"/>
<rect x="0" y="100.0" width="64.0" height="32" fill="#1e2640"/>
<rect x="5.0" y="100.0" width="1" height="32" fill="#343d5c"/>
<rect x="17.0" y="100.0" width="1" height="32" fill="#343d5c"/>
<rect x="29.0" y="100.0" width="1" height="32" fill="#343d5c"/>
<rect x="41.0" y="100.0" width="1" height="32" fill="#343d5c"/>
<rect x="43.0" y="100.0" width="1" height="32" fill="#343d5c"/>
<rect x="8.5" y="103.5" width="3" height="2.4" fill="#2aa9bb"/>
<rect x="20.5" y="103.5" width="3" height="2.4" fill="#2aa9bb"/>
<rect x="32.5" y="103.5" width="3" height="2.4" fill="#2aa9bb"/>
<rect x="48" y="103.5" width="8" height="2.4" fill="#d9434f"/>
<rect x="49" y="114.0" width="8" height="9" fill="#4c5474"/>
<rect x="0" y="132.0" width="64.0" height="2" fill="#414a6c"/>
<rect x="0" y="134.0" width="64.0" height="26" fill="#29314f"/>
<rect x="1.2" y="135.5" width="5" height="23" fill="#333c5b" stroke="#3f4869" stroke-width="0.6"/>
<rect x="2.7" y="137.0" width="2" height="2" fill="#2aa9bb"/>
<rect x="7.5" y="135.5" width="5" height="23" fill="#333c5b" stroke="#3f4869" stroke-width="0.6"/>
<rect x="9.0" y="137.0" width="2" height="2" fill="#2aa9bb"/>
<rect x="13.8" y="135.5" width="5" height="23" fill="#333c5b" stroke="#3f4869" stroke-width="0.6"/>
<rect x="15.3" y="137.0" width="2" height="2" fill="#2aa9bb"/>
<rect x="20.1" y="135.5" width="5" height="23" fill="#333c5b" stroke="#3f4869" stroke-width="0.6"/>
<rect x="21.6" y="137.0" width="2" height="2" fill="#2aa9bb"/>
<rect x="26.4" y="135.5" width="5" height="23" fill="#333c5b" stroke="#3f4869" stroke-width="0.6"/>
<rect x="27.9" y="137.0" width="2" height="2" fill="#2aa9bb"/>
<rect x="32.7" y="135.5" width="5" height="23" fill="#333c5b" stroke="#3f4869" stroke-width="0.6"/>
<rect x="34.2" y="137.0" width="2" height="2" fill="#2aa9bb"/>
<rect x="39.0" y="135.5" width="5" height="23" fill="#333c5b" stroke="#3f4869" stroke-width="0.6"/>
<rect x="40.5" y="137.0" width="2" height="2" fill="#2aa9bb"/>
<rect x="45.3" y="135.5" width="5" height="23" fill="#333c5b" stroke="#3f4869" stroke-width="0.6"/>
<rect x="46.8" y="137.0" width="2" height="2" fill="#2aa9bb"/>
<rect x="51.6" y="135.5" width="5" height="23" fill="#333c5b" stroke="#3f4869" stroke-width="0.6"/>
<rect x="53.1" y="137.0" width="2" height="2" fill="#2aa9bb"/>
<rect x="57.9" y="135.5" width="5" height="23" fill="#333c5b" stroke="#3f4869" stroke-width="0.6"/>
<rect x="59.4" y="137.0" width="2" height="2" fill="#2aa9bb"/>
<rect x="0" y="160.0" width="64.0" height="4" fill="#262d48"/>
<rect x="0" y="164.0" width="64.0" height="16" fill="#2a3250"/>
<rect x="0" y="164.0" width="64.0" height="1" fill="#414a6c"/>
<rect x="0" y="172.0" width="64.0" height="0.8" fill="#3a4363"/>
<rect x="15.5" y="165.6" width="2.2" height="2.2" fill="#2aa9bb"/>
<rect x="18.4" y="165.6" width="2.2" height="2.2" fill="#2aa9bb"/>
<rect x="15.5" y="168.9" width="2.2" height="2.2" fill="#2aa9bb"/>
<rect x="18.4" y="168.9" width="2.2" height="2.2" fill="#2aa9bb"/>
<rect x="15.5" y="172.2" width="2.2" height="2.2" fill="#2aa9bb"/>
<rect x="18.4" y="172.2" width="2.2" height="2.2" fill="#2aa9bb"/>
<rect x="15.5" y="175.5" width="2.2" height="2.2" fill="#2aa9bb"/>
<rect x="18.4" y="175.5" width="2.2" height="2.2" fill="#2aa9bb"/>
<rect x="35.5" y="165.6" width="2.2" height="2.2" fill="#2aa9bb"/>
<rect x="38.4" y="165.6" width="2.2" height="2.2" fill="#2aa9bb"/>
<rect x="35.5" y="168.9" width="2.2" height="2.2" fill="#2aa9bb"/>
<rect x="38.4" y="168.9" width="2.2" height="2.2" fill="#2aa9bb"/>
<rect x="35.5" y="172.2" width="2.2" height="2.2" fill="#2aa9bb"/>
<rect x="38.4" y="172.2" width="2.2" height="2.2" fill="#2aa9bb"/>
<rect x="35.5" y="175.5" width="2.2" height="2.2" fill="#2aa9bb"/>
<rect x="38.4" y="175.5" width="2.2" height="2.2" fill="#2aa9bb"/>
<rect x="54.5" y="165.6" width="2.2" height="2.2" fill="#2aa9bb"/>
<rect x="57.4" y="165.6" width="2.2" height="2.2" fill="#2aa9bb"/>
<rect x="54.5" y="168.9" width="2.2" height="2.2" fill="#2aa9bb"/>
<rect x="57.4" y="168.9" width="2.2" height="2.2" fill="#2aa9bb"/>
<rect x="54.5" y="172.2" width="2.2" height="2.2" fill="#2aa9bb"/>
<rect x="57.4" y="172.2" width="2.2" height="2.2" fill="#2aa9bb"/>
<rect x="54.5" y="175.5" width="2.2" height="2.2" fill="#2aa9bb"/>
<rect x="57.4" y="175.5" width="2.2" height="2.2" fill="#2aa9bb"/>
<rect x="3.0" y="167.0" width="9" height="1.2" fill="#36405f"/>
<rect x="3.0" y="175.5" width="9" height="1.2" fill="#36405f"/>
<rect x="24.0" y="167.0" width="9" height="1.2" fill="#36405f"/>
<rect x="24.0" y="175.5" width="9" height="1.2" fill="#36405f"/>
<rect x="43.0" y="167.0" width="9" height="1.2" fill="#36405f"/>
<rect x="43.0" y="175.5" width="9" height="1.2" fill="#36405f"/>
<rect x="0" y="180.0" width="64.0" height="2" fill="#414a6c"/>
<rect x="0" y="182.0" width="64.0" height="32" fill="#1e2640"/>
<rect x="5.0" y="182.0" width="1" height="32" fill="#343d5c"/>
<rect x="17.0" y="182.0" width="1" height="32" fill="#343d5c"/>
<rect x="29.0" y="182.0" width="1" height="32" fill="#343d5c"/>
<rect x="41.0" y="182.0" width="1" height="32" fill="#343d5c"/>
<rect x="43.0" y="182.0" width="1" height="32" fill="#343d5c"/>
<rect x="8.5" y="185.5" width="3" height="2.4" fill="#2aa9bb"/>
<rect x="20.5" y="185.5" width="3" height="2.4" fill="#2aa9bb"/>
<rect x="32.5" y="185.5" width="3" height="2.4" fill="#2aa9bb"/>
<rect x="48" y="185.5" width="8" height="2.4" fill="#d9434f"/>
<rect x="49" y="196.0" width="8" height="9" fill="#4c5474"/>
<rect x="0" y="214.0" width="64.0" height="2" fill="#414a6c"/>
<rect x="0" y="216.0" width="64.0" height="26" fill="#29314f"/>
<rect x="1.2" y="217.5" width="5" height="23" fill="#333c5b" stroke="#3f4869" stroke-width="0.6"/>
<rect x="2.7" y="219.0" width="2" height="2" fill="#2aa9bb"/>
<rect x="7.5" y="217.5" width="5" height="23" fill="#333c5b" stroke="#3f4869" stroke-width="0.6"/>
<rect x="9.0" y="219.0" width="2" height="2" fill="#2aa9bb"/>
<rect x="13.8" y="217.5" width="5" height="23" fill="#333c5b" stroke="#3f4869" stroke-width="0.6"/>
<rect x="15.3" y="219.0" width="2" height="2" fill="#2aa9bb"/>
<rect x="20.1" y="217.5" width="5" height="23" fill="#333c5b" stroke="#3f4869" stroke-width="0.6"/>
<rect x="21.6" y="219.0" width="2" height="2" fill="#2aa9bb"/>
<rect x="26.4" y="217.5" width="5" height="23" fill="#333c5b" stroke="#3f4869" stroke-width="0.6"/>
<rect x="27.9" y="219.0" width="2" height="2" fill="#2aa9bb"/>
<rect x="32.7" y="217.5" width="5" height="23" fill="#333c5b" stroke="#3f4869" stroke-width="0.6"/>
<rect x="34.2" y="219.0" width="2" height="2" fill="#2aa9bb"/>
<rect x="39.0" y="217.5" width="5" height="23" fill="#333c5b" stroke="#3f4869" stroke-width="0.6"/>
<rect x="40.5" y="219.0" width="2" height="2" fill="#2aa9bb"/>
<rect x="45.3" y="217.5" width="5" height="23" fill="#333c5b" stroke="#3f4869" stroke-width="0.6"/>
<rect x="46.8" y="219.0" width="2" height="2" fill="#2aa9bb"/>
<rect x="51.6" y="217.5" width="5" height="23" fill="#333c5b" stroke="#3f4869" stroke-width="0.6"/>
<rect x="53.1" y="219.0" width="2" height="2" fill="#2aa9bb"/>
<rect x="57.9" y="217.5" width="5" height="23" fill="#333c5b" stroke="#3f4869" stroke-width="0.6"/>
<rect x="59.4" y="219.0" width="2" height="2" fill="#2aa9bb"/>
<rect x="0" y="242.0" width="64.0" height="4" fill="#262d48"/>
<polygon points="0,25.0 0,44.0 64.0,131.0 64.0,112.0" fill="#ffffff" fill-opacity="0.1"/>
<polygon points="0,99.0 0,125.0 64.0,212.0 64.0,186.0" fill="#ffffff" fill-opacity="0.1"/>
</svg>
<circle cx="80.4" cy="102.5" r="3.1" fill="#1e2024"/>
<circle cx="80.9" cy="103" r="1.2" fill="#55575c"/>
<rect x="78.2" y="107.5" width="4.6" height="29" rx="2" fill="#1e2024"/>
<rect x="80.6" y="109" width="1.2" height="25" fill="#3a3c40"/>
</g>
<polygon points="1340.8,522.7 1403.1,557.9 1403.1,821.9 1340.8,786.7" fill="#0a0b0f"  stroke="#0a0b0f" stroke-width="0.5" stroke-linejoin="round"/>
<polygon points="1340.8,779.2 1403.1,813.4 1403.1,821.9 1340.8,786.7" fill="#a1a3a6"  stroke="#a1a3a6" stroke-width="0.5" stroke-linejoin="round"/>
<polygon points="1340.8,522.7 1420.9,476.6 1485.5,512.6 1403.1,557.9" fill="#262930"  stroke="#262930" stroke-width="0.5" stroke-linejoin="round"/>
<g transform="matrix(1,-0.550,0,1,1403.10,557.90)">
<rect x="0" y="0" width="82.4" height="264.0" fill="#a6a8ab"/>
<rect x="0" y="0" width="82.4" height="3" fill="#e4e5e6"/>
<rect x="0" y="0" width="2.5" height="264.0" fill="#b4b6b8"/>
<rect x="0" y="0" width="2.5" height="3" fill="#eeeeef"/>
<rect x="0" y="258.4" width="82.4" height="0.7" fill="#c4c6c8"/>
<rect x="9.5" y="9.0" width="67.2" height="241.8" fill="#7c82ac"/>
<svg x="9.5" y="9.0" width="64.0" height="239.0" overflow="hidden">
<rect x="0" y="0" width="64.0" height="239.0" fill="#222a44"/>
<rect x="0" y="-0.0" width="64.0" height="16" fill="#2a3250"/>
<rect x="0" y="-0.0" width="64.0" height="1" fill="#414a6c"/>
<rect x="0" y="8.0" width="64.0" height="0.8" fill="#3a4363"/>
<rect x="15.5" y="1.6" width="2.2" height="2.2" fill="#2aa9bb"/>
<rect x="18.4" y="1.6" width="2.2" height="2.2" fill="#2aa9bb"/>
<rect x="15.5" y="4.9" width="2.2" height="2.2" fill="#2aa9bb"/>
<rect x="18.4" y="4.9" width="2.2" height="2.2" fill="#2aa9bb"/>
<rect x="15.5" y="8.2" width="2.2" height="2.2" fill="#2aa9bb"/>
<rect x="18.4" y="8.2" width="2.2" height="2.2" fill="#2aa9bb"/>
<rect x="15.5" y="11.5" width="2.2" height="2.2" fill="#2aa9bb"/>
<rect x="18.4" y="11.5" width="2.2" height="2.2" fill="#2aa9bb"/>
<rect x="35.5" y="1.6" width="2.2" height="2.2" fill="#2aa9bb"/>
<rect x="38.4" y="1.6" width="2.2" height="2.2" fill="#2aa9bb"/>
<rect x="35.5" y="4.9" width="2.2" height="2.2" fill="#2aa9bb"/>
<rect x="38.4" y="4.9" width="2.2" height="2.2" fill="#2aa9bb"/>
<rect x="35.5" y="8.2" width="2.2" height="2.2" fill="#2aa9bb"/>
<rect x="38.4" y="8.2" width="2.2" height="2.2" fill="#2aa9bb"/>
<rect x="35.5" y="11.5" width="2.2" height="2.2" fill="#2aa9bb"/>
<rect x="38.4" y="11.5" width="2.2" height="2.2" fill="#2aa9bb"/>
<rect x="54.5" y="1.6" width="2.2" height="2.2" fill="#2aa9bb"/>
<rect x="57.4" y="1.6" width="2.2" height="2.2" fill="#2aa9bb"/>
<rect x="54.5" y="4.9" width="2.2" height="2.2" fill="#2aa9bb"/>
<rect x="57.4" y="4.9" width="2.2" height="2.2" fill="#2aa9bb"/>
<rect x="54.5" y="8.2" width="2.2" height="2.2" fill="#2aa9bb"/>
<rect x="57.4" y="8.2" width="2.2" height="2.2" fill="#2aa9bb"/>
<rect x="54.5" y="11.5" width="2.2" height="2.2" fill="#2aa9bb"/>
<rect x="57.4" y="11.5" width="2.2" height="2.2" fill="#2aa9bb"/>
<rect x="3.0" y="3.0" width="9" height="1.2" fill="#36405f"/>
<rect x="3.0" y="11.5" width="9" height="1.2" fill="#36405f"/>
<rect x="24.0" y="3.0" width="9" height="1.2" fill="#36405f"/>
<rect x="24.0" y="11.5" width="9" height="1.2" fill="#36405f"/>
<rect x="43.0" y="3.0" width="9" height="1.2" fill="#36405f"/>
<rect x="43.0" y="11.5" width="9" height="1.2" fill="#36405f"/>
<rect x="0" y="16.0" width="64.0" height="2" fill="#414a6c"/>
<rect x="0" y="18.0" width="64.0" height="32" fill="#1e2640"/>
<rect x="5.0" y="18.0" width="1" height="32" fill="#343d5c"/>
<rect x="17.0" y="18.0" width="1" height="32" fill="#343d5c"/>
<rect x="29.0" y="18.0" width="1" height="32" fill="#343d5c"/>
<rect x="41.0" y="18.0" width="1" height="32" fill="#343d5c"/>
<rect x="43.0" y="18.0" width="1" height="32" fill="#343d5c"/>
<rect x="8.5" y="21.5" width="3" height="2.4" fill="#2aa9bb"/>
<rect x="20.5" y="21.5" width="3" height="2.4" fill="#2aa9bb"/>
<rect x="32.5" y="21.5" width="3" height="2.4" fill="#2aa9bb"/>
<rect x="48" y="21.5" width="8" height="2.4" fill="#d9434f"/>
<rect x="49" y="32.0" width="8" height="9" fill="#4c5474"/>
<rect x="0" y="50.0" width="64.0" height="2" fill="#414a6c"/>
<rect x="0" y="52.0" width="64.0" height="26" fill="#29314f"/>
<rect x="1.2" y="53.5" width="5" height="23" fill="#333c5b" stroke="#3f4869" stroke-width="0.6"/>
<rect x="2.7" y="55.0" width="2" height="2" fill="#2aa9bb"/>
<rect x="7.5" y="53.5" width="5" height="23" fill="#333c5b" stroke="#3f4869" stroke-width="0.6"/>
<rect x="9.0" y="55.0" width="2" height="2" fill="#2aa9bb"/>
<rect x="13.8" y="53.5" width="5" height="23" fill="#333c5b" stroke="#3f4869" stroke-width="0.6"/>
<rect x="15.3" y="55.0" width="2" height="2" fill="#2aa9bb"/>
<rect x="20.1" y="53.5" width="5" height="23" fill="#333c5b" stroke="#3f4869" stroke-width="0.6"/>
<rect x="21.6" y="55.0" width="2" height="2" fill="#2aa9bb"/>
<rect x="26.4" y="53.5" width="5" height="23" fill="#333c5b" stroke="#3f4869" stroke-width="0.6"/>
<rect x="27.9" y="55.0" width="2" height="2" fill="#2aa9bb"/>
<rect x="32.7" y="53.5" width="5" height="23" fill="#333c5b" stroke="#3f4869" stroke-width="0.6"/>
<rect x="34.2" y="55.0" width="2" height="2" fill="#2aa9bb"/>
<rect x="39.0" y="53.5" width="5" height="23" fill="#333c5b" stroke="#3f4869" stroke-width="0.6"/>
<rect x="40.5" y="55.0" width="2" height="2" fill="#2aa9bb"/>
<rect x="45.3" y="53.5" width="5" height="23" fill="#333c5b" stroke="#3f4869" stroke-width="0.6"/>
<rect x="46.8" y="55.0" width="2" height="2" fill="#2aa9bb"/>
<rect x="51.6" y="53.5" width="5" height="23" fill="#333c5b" stroke="#3f4869" stroke-width="0.6"/>
<rect x="53.1" y="55.0" width="2" height="2" fill="#2aa9bb"/>
<rect x="57.9" y="53.5" width="5" height="23" fill="#333c5b" stroke="#3f4869" stroke-width="0.6"/>
<rect x="59.4" y="55.0" width="2" height="2" fill="#2aa9bb"/>
<rect x="0" y="78.0" width="64.0" height="4" fill="#262d48"/>
<rect x="0" y="82.0" width="64.0" height="16" fill="#2a3250"/>
<rect x="0" y="82.0" width="64.0" height="1" fill="#414a6c"/>
<rect x="0" y="90.0" width="64.0" height="0.8" fill="#3a4363"/>
<rect x="15.5" y="83.6" width="2.2" height="2.2" fill="#2aa9bb"/>
<rect x="18.4" y="83.6" width="2.2" height="2.2" fill="#2aa9bb"/>
<rect x="15.5" y="86.9" width="2.2" height="2.2" fill="#2aa9bb"/>
<rect x="18.4" y="86.9" width="2.2" height="2.2" fill="#2aa9bb"/>
<rect x="15.5" y="90.2" width="2.2" height="2.2" fill="#2aa9bb"/>
<rect x="18.4" y="90.2" width="2.2" height="2.2" fill="#2aa9bb"/>
<rect x="15.5" y="93.5" width="2.2" height="2.2" fill="#2aa9bb"/>
<rect x="18.4" y="93.5" width="2.2" height="2.2" fill="#2aa9bb"/>
<rect x="35.5" y="83.6" width="2.2" height="2.2" fill="#2aa9bb"/>
<rect x="38.4" y="83.6" width="2.2" height="2.2" fill="#2aa9bb"/>
<rect x="35.5" y="86.9" width="2.2" height="2.2" fill="#2aa9bb"/>
<rect x="38.4" y="86.9" width="2.2" height="2.2" fill="#2aa9bb"/>
<rect x="35.5" y="90.2" width="2.2" height="2.2" fill="#2aa9bb"/>
<rect x="38.4" y="90.2" width="2.2" height="2.2" fill="#2aa9bb"/>
<rect x="35.5" y="93.5" width="2.2" height="2.2" fill="#2aa9bb"/>
<rect x="38.4" y="93.5" width="2.2" height="2.2" fill="#2aa9bb"/>
<rect x="54.5" y="83.6" width="2.2" height="2.2" fill="#2aa9bb"/>
<rect x="57.4" y="83.6" width="2.2" height="2.2" fill="#2aa9bb"/>
<rect x="54.5" y="86.9" width="2.2" height="2.2" fill="#2aa9bb"/>
<rect x="57.4" y="86.9" width="2.2" height="2.2" fill="#2aa9bb"/>
<rect x="54.5" y="90.2" width="2.2" height="2.2" fill="#2aa9bb"/>
<rect x="57.4" y="90.2" width="2.2" height="2.2" fill="#2aa9bb"/>
<rect x="54.5" y="93.5" width="2.2" height="2.2" fill="#2aa9bb"/>
<rect x="57.4" y="93.5" width="2.2" height="2.2" fill="#2aa9bb"/>
<rect x="3.0" y="85.0" width="9" height="1.2" fill="#36405f"/>
<rect x="3.0" y="93.5" width="9" height="1.2" fill="#36405f"/>
<rect x="24.0" y="85.0" width="9" height="1.2" fill="#36405f"/>
<rect x="24.0" y="93.5" width="9" height="1.2" fill="#36405f"/>
<rect x="43.0" y="85.0" width="9" height="1.2" fill="#36405f"/>
<rect x="43.0" y="93.5" width="9" height="1.2" fill="#36405f"/>
<rect x="0" y="98.0" width="64.0" height="2" fill="#414a6c"/>
<rect x="0" y="100.0" width="64.0" height="32" fill="#1e2640"/>
<rect x="5.0" y="100.0" width="1" height="32" fill="#343d5c"/>
<rect x="17.0" y="100.0" width="1" height="32" fill="#343d5c"/>
<rect x="29.0" y="100.0" width="1" height="32" fill="#343d5c"/>
<rect x="41.0" y="100.0" width="1" height="32" fill="#343d5c"/>
<rect x="43.0" y="100.0" width="1" height="32" fill="#343d5c"/>
<rect x="8.5" y="103.5" width="3" height="2.4" fill="#2aa9bb"/>
<rect x="20.5" y="103.5" width="3" height="2.4" fill="#2aa9bb"/>
<rect x="32.5" y="103.5" width="3" height="2.4" fill="#2aa9bb"/>
<rect x="48" y="103.5" width="8" height="2.4" fill="#d9434f"/>
<rect x="49" y="114.0" width="8" height="9" fill="#4c5474"/>
<rect x="0" y="132.0" width="64.0" height="2" fill="#414a6c"/>
<rect x="0" y="134.0" width="64.0" height="26" fill="#29314f"/>
<rect x="1.2" y="135.5" width="5" height="23" fill="#333c5b" stroke="#3f4869" stroke-width="0.6"/>
<rect x="2.7" y="137.0" width="2" height="2" fill="#2aa9bb"/>
<rect x="7.5" y="135.5" width="5" height="23" fill="#333c5b" stroke="#3f4869" stroke-width="0.6"/>
<rect x="9.0" y="137.0" width="2" height="2" fill="#2aa9bb"/>
<rect x="13.8" y="135.5" width="5" height="23" fill="#333c5b" stroke="#3f4869" stroke-width="0.6"/>
<rect x="15.3" y="137.0" width="2" height="2" fill="#2aa9bb"/>
<rect x="20.1" y="135.5" width="5" height="23" fill="#333c5b" stroke="#3f4869" stroke-width="0.6"/>
<rect x="21.6" y="137.0" width="2" height="2" fill="#2aa9bb"/>
<rect x="26.4" y="135.5" width="5" height="23" fill="#333c5b" stroke="#3f4869" stroke-width="0.6"/>
<rect x="27.9" y="137.0" width="2" height="2" fill="#2aa9bb"/>
<rect x="32.7" y="135.5" width="5" height="23" fill="#333c5b" stroke="#3f4869" stroke-width="0.6"/>
<rect x="34.2" y="137.0" width="2" height="2" fill="#2aa9bb"/>
<rect x="39.0" y="135.5" width="5" height="23" fill="#333c5b" stroke="#3f4869" stroke-width="0.6"/>
<rect x="40.5" y="137.0" width="2" height="2" fill="#2aa9bb"/>
<rect x="45.3" y="135.5" width="5" height="23" fill="#333c5b" stroke="#3f4869" stroke-width="0.6"/>
<rect x="46.8" y="137.0" width="2" height="2" fill="#2aa9bb"/>
<rect x="51.6" y="135.5" width="5" height="23" fill="#333c5b" stroke="#3f4869" stroke-width="0.6"/>
<rect x="53.1" y="137.0" width="2" height="2" fill="#2aa9bb"/>
<rect x="57.9" y="135.5" width="5" height="23" fill="#333c5b" stroke="#3f4869" stroke-width="0.6"/>
<rect x="59.4" y="137.0" width="2" height="2" fill="#2aa9bb"/>
<rect x="0" y="160.0" width="64.0" height="4" fill="#262d48"/>
<rect x="0" y="164.0" width="64.0" height="16" fill="#2a3250"/>
<rect x="0" y="164.0" width="64.0" height="1" fill="#414a6c"/>
<rect x="0" y="172.0" width="64.0" height="0.8" fill="#3a4363"/>
<rect x="15.5" y="165.6" width="2.2" height="2.2" fill="#2aa9bb"/>
<rect x="18.4" y="165.6" width="2.2" height="2.2" fill="#2aa9bb"/>
<rect x="15.5" y="168.9" width="2.2" height="2.2" fill="#2aa9bb"/>
<rect x="18.4" y="168.9" width="2.2" height="2.2" fill="#2aa9bb"/>
<rect x="15.5" y="172.2" width="2.2" height="2.2" fill="#2aa9bb"/>
<rect x="18.4" y="172.2" width="2.2" height="2.2" fill="#2aa9bb"/>
<rect x="15.5" y="175.5" width="2.2" height="2.2" fill="#2aa9bb"/>
<rect x="18.4" y="175.5" width="2.2" height="2.2" fill="#2aa9bb"/>
<rect x="35.5" y="165.6" width="2.2" height="2.2" fill="#2aa9bb"/>
<rect x="38.4" y="165.6" width="2.2" height="2.2" fill="#2aa9bb"/>
<rect x="35.5" y="168.9" width="2.2" height="2.2" fill="#2aa9bb"/>
<rect x="38.4" y="168.9" width="2.2" height="2.2" fill="#2aa9bb"/>
<rect x="35.5" y="172.2" width="2.2" height="2.2" fill="#2aa9bb"/>
<rect x="38.4" y="172.2" width="2.2" height="2.2" fill="#2aa9bb"/>
<rect x="35.5" y="175.5" width="2.2" height="2.2" fill="#2aa9bb"/>
<rect x="38.4" y="175.5" width="2.2" height="2.2" fill="#2aa9bb"/>
<rect x="54.5" y="165.6" width="2.2" height="2.2" fill="#2aa9bb"/>
<rect x="57.4" y="165.6" width="2.2" height="2.2" fill="#2aa9bb"/>
<rect x="54.5" y="168.9" width="2.2" height="2.2" fill="#2aa9bb"/>
<rect x="57.4" y="168.9" width="2.2" height="2.2" fill="#2aa9bb"/>
<rect x="54.5" y="172.2" width="2.2" height="2.2" fill="#2aa9bb"/>
<rect x="57.4" y="172.2" width="2.2" height="2.2" fill="#2aa9bb"/>
<rect x="54.5" y="175.5" width="2.2" height="2.2" fill="#2aa9bb"/>
<rect x="57.4" y="175.5" width="2.2" height="2.2" fill="#2aa9bb"/>
<rect x="3.0" y="167.0" width="9" height="1.2" fill="#36405f"/>
<rect x="3.0" y="175.5" width="9" height="1.2" fill="#36405f"/>
<rect x="24.0" y="167.0" width="9" height="1.2" fill="#36405f"/>
<rect x="24.0" y="175.5" width="9" height="1.2" fill="#36405f"/>
<rect x="43.0" y="167.0" width="9" height="1.2" fill="#36405f"/>
<rect x="43.0" y="175.5" width="9" height="1.2" fill="#36405f"/>
<rect x="0" y="180.0" width="64.0" height="2" fill="#414a6c"/>
<rect x="0" y="182.0" width="64.0" height="32" fill="#1e2640"/>
<rect x="5.0" y="182.0" width="1" height="32" fill="#343d5c"/>
<rect x="17.0" y="182.0" width="1" height="32" fill="#343d5c"/>
<rect x="29.0" y="182.0" width="1" height="32" fill="#343d5c"/>
<rect x="41.0" y="182.0" width="1" height="32" fill="#343d5c"/>
<rect x="43.0" y="182.0" width="1" height="32" fill="#343d5c"/>
<rect x="8.5" y="185.5" width="3" height="2.4" fill="#2aa9bb"/>
<rect x="20.5" y="185.5" width="3" height="2.4" fill="#2aa9bb"/>
<rect x="32.5" y="185.5" width="3" height="2.4" fill="#2aa9bb"/>
<rect x="48" y="185.5" width="8" height="2.4" fill="#d9434f"/>
<rect x="49" y="196.0" width="8" height="9" fill="#4c5474"/>
<rect x="0" y="214.0" width="64.0" height="2" fill="#414a6c"/>
<rect x="0" y="216.0" width="64.0" height="26" fill="#29314f"/>
<rect x="1.2" y="217.5" width="5" height="23" fill="#333c5b" stroke="#3f4869" stroke-width="0.6"/>
<rect x="2.7" y="219.0" width="2" height="2" fill="#2aa9bb"/>
<rect x="7.5" y="217.5" width="5" height="23" fill="#333c5b" stroke="#3f4869" stroke-width="0.6"/>
<rect x="9.0" y="219.0" width="2" height="2" fill="#2aa9bb"/>
<rect x="13.8" y="217.5" width="5" height="23" fill="#333c5b" stroke="#3f4869" stroke-width="0.6"/>
<rect x="15.3" y="219.0" width="2" height="2" fill="#2aa9bb"/>
<rect x="20.1" y="217.5" width="5" height="23" fill="#333c5b" stroke="#3f4869" stroke-width="0.6"/>
<rect x="21.6" y="219.0" width="2" height="2" fill="#2aa9bb"/>
<rect x="26.4" y="217.5" width="5" height="23" fill="#333c5b" stroke="#3f4869" stroke-width="0.6"/>
<rect x="27.9" y="219.0" width="2" height="2" fill="#2aa9bb"/>
<rect x="32.7" y="217.5" width="5" height="23" fill="#333c5b" stroke="#3f4869" stroke-width="0.6"/>
<rect x="34.2" y="219.0" width="2" height="2" fill="#2aa9bb"/>
<rect x="39.0" y="217.5" width="5" height="23" fill="#333c5b" stroke="#3f4869" stroke-width="0.6"/>
<rect x="40.5" y="219.0" width="2" height="2" fill="#2aa9bb"/>
<rect x="45.3" y="217.5" width="5" height="23" fill="#333c5b" stroke="#3f4869" stroke-width="0.6"/>
<rect x="46.8" y="219.0" width="2" height="2" fill="#2aa9bb"/>
<rect x="51.6" y="217.5" width="5" height="23" fill="#333c5b" stroke="#3f4869" stroke-width="0.6"/>
<rect x="53.1" y="219.0" width="2" height="2" fill="#2aa9bb"/>
<rect x="57.9" y="217.5" width="5" height="23" fill="#333c5b" stroke="#3f4869" stroke-width="0.6"/>
<rect x="59.4" y="219.0" width="2" height="2" fill="#2aa9bb"/>
<rect x="0" y="242.0" width="64.0" height="4" fill="#262d48"/>
<polygon points="0,25.0 0,44.0 64.0,131.0 64.0,112.0" fill="#ffffff" fill-opacity="0.1"/>
<polygon points="0,99.0 0,125.0 64.0,212.0 64.0,186.0" fill="#ffffff" fill-opacity="0.1"/>
</svg>
<circle cx="80.4" cy="102.5" r="3.1" fill="#1e2024"/>
<circle cx="80.9" cy="103" r="1.2" fill="#55575c"/>
<rect x="78.2" y="107.5" width="4.6" height="29" rx="2" fill="#1e2024"/>
<rect x="80.6" y="109" width="1.2" height="25" fill="#3a3c40"/>
</g>
<polygon points="1254.0,573.0 1316.2,608.2 1316.2,872.2 1254.0,837.0" fill="#0a0b0f"  stroke="#0a0b0f" stroke-width="0.5" stroke-linejoin="round"/>
<polygon points="1254.0,829.5 1316.2,863.7 1316.2,872.2 1254.0,837.0" fill="#a1a3a6"  stroke="#a1a3a6" stroke-width="0.5" stroke-linejoin="round"/>
<polygon points="1254.0,573.0 1334.0,526.9 1398.7,562.9 1316.2,608.2" fill="#262930"  stroke="#262930" stroke-width="0.5" stroke-linejoin="round"/>
<g transform="matrix(1,-0.550,0,1,1316.25,608.20)">
<rect x="0" y="0" width="82.4" height="264.0" fill="#a6a8ab"/>
<rect x="0" y="0" width="82.4" height="3" fill="#e4e5e6"/>
<rect x="0" y="0" width="2.5" height="264.0" fill="#b4b6b8"/>
<rect x="0" y="0" width="2.5" height="3" fill="#eeeeef"/>
<rect x="0" y="258.4" width="82.4" height="0.7" fill="#c4c6c8"/>
<rect x="9.5" y="9.0" width="67.2" height="241.8" fill="#7c82ac"/>
<svg x="9.5" y="9.0" width="64.0" height="239.0" overflow="hidden">
<rect x="0" y="0" width="64.0" height="239.0" fill="#29324c"/>
<rect x="0" y="150" width="64.0" height="1" fill="#323b57"/>
<rect x="0" y="156" width="64.0" height="1" fill="#323b57"/>
<rect x="0" y="162" width="64.0" height="1" fill="#323b57"/>
<rect x="0" y="168" width="64.0" height="1" fill="#323b57"/>
<rect x="0" y="174" width="64.0" height="1" fill="#323b57"/>
<rect x="0" y="180" width="64.0" height="1" fill="#323b57"/>
<rect x="0" y="186" width="64.0" height="1" fill="#323b57"/>
<rect x="0" y="192" width="64.0" height="1" fill="#323b57"/>
<rect x="0" y="198" width="64.0" height="1" fill="#323b57"/>
<rect x="0" y="204" width="64.0" height="1" fill="#323b57"/>
<rect x="0" y="210" width="64.0" height="1" fill="#323b57"/>
<rect x="0" y="216" width="64.0" height="1" fill="#323b57"/>
<rect x="0" y="222" width="64.0" height="1" fill="#323b57"/>
<rect x="0" y="228" width="64.0" height="1" fill="#323b57"/>
<rect x="0" y="234" width="64.0" height="1" fill="#323b57"/>
<polygon points="0,25.0 0,44.0 64.0,131.0 64.0,112.0" fill="#ffffff" fill-opacity="0.1"/>
<polygon points="0,99.0 0,125.0 64.0,212.0 64.0,186.0" fill="#ffffff" fill-opacity="0.1"/>
</svg>
<circle cx="80.4" cy="102.5" r="3.1" fill="#1e2024"/>
<circle cx="80.9" cy="103" r="1.2" fill="#55575c"/>
<rect x="78.2" y="107.5" width="4.6" height="29" rx="2" fill="#1e2024"/>
<rect x="80.6" y="109" width="1.2" height="25" fill="#3a3c40"/>
</g>
<polygon points="1167.1,623.3 1229.4,658.5 1229.4,922.5 1167.1,887.3" fill="#0a0b0f"  stroke="#0a0b0f" stroke-width="0.5" stroke-linejoin="round"/>
<polygon points="1167.1,879.8 1229.4,914.0 1229.4,922.5 1167.1,887.3" fill="#a1a3a6"  stroke="#a1a3a6" stroke-width="0.5" stroke-linejoin="round"/>
<polygon points="1167.1,623.3 1247.2,577.2 1311.8,613.2 1229.4,658.5" fill="#262930"  stroke="#262930" stroke-width="0.5" stroke-linejoin="round"/>
<g transform="matrix(1,-0.550,0,1,1229.40,658.50)">
<rect x="0" y="0" width="82.4" height="264.0" fill="#a6a8ab"/>
<rect x="0" y="0" width="82.4" height="3" fill="#e4e5e6"/>
<rect x="0" y="0" width="2.5" height="264.0" fill="#b4b6b8"/>
<rect x="0" y="0" width="2.5" height="3" fill="#eeeeef"/>
<rect x="0" y="258.4" width="82.4" height="0.7" fill="#c4c6c8"/>
<rect x="9.5" y="9.0" width="67.2" height="241.8" fill="#7c82ac"/>
<svg x="9.5" y="9.0" width="64.0" height="239.0" overflow="hidden">
<rect x="0" y="0" width="64.0" height="239.0" fill="#222a44"/>
<rect x="0" y="-0.0" width="64.0" height="16" fill="#2a3250"/>
<rect x="0" y="-0.0" width="64.0" height="1" fill="#414a6c"/>
<rect x="0" y="8.0" width="64.0" height="0.8" fill="#3a4363"/>
<rect x="15.5" y="1.6" width="2.2" height="2.2" fill="#2aa9bb"/>
<rect x="18.4" y="1.6" width="2.2" height="2.2" fill="#2aa9bb"/>
<rect x="15.5" y="4.9" width="2.2" height="2.2" fill="#2aa9bb"/>
<rect x="18.4" y="4.9" width="2.2" height="2.2" fill="#2aa9bb"/>
<rect x="15.5" y="8.2" width="2.2" height="2.2" fill="#2aa9bb"/>
<rect x="18.4" y="8.2" width="2.2" height="2.2" fill="#2aa9bb"/>
<rect x="15.5" y="11.5" width="2.2" height="2.2" fill="#2aa9bb"/>
<rect x="18.4" y="11.5" width="2.2" height="2.2" fill="#2aa9bb"/>
<rect x="35.5" y="1.6" width="2.2" height="2.2" fill="#2aa9bb"/>
<rect x="38.4" y="1.6" width="2.2" height="2.2" fill="#2aa9bb"/>
<rect x="35.5" y="4.9" width="2.2" height="2.2" fill="#2aa9bb"/>
<rect x="38.4" y="4.9" width="2.2" height="2.2" fill="#2aa9bb"/>
<rect x="35.5" y="8.2" width="2.2" height="2.2" fill="#2aa9bb"/>
<rect x="38.4" y="8.2" width="2.2" height="2.2" fill="#2aa9bb"/>
<rect x="35.5" y="11.5" width="2.2" height="2.2" fill="#2aa9bb"/>
<rect x="38.4" y="11.5" width="2.2" height="2.2" fill="#2aa9bb"/>
<rect x="54.5" y="1.6" width="2.2" height="2.2" fill="#2aa9bb"/>
<rect x="57.4" y="1.6" width="2.2" height="2.2" fill="#2aa9bb"/>
<rect x="54.5" y="4.9" width="2.2" height="2.2" fill="#2aa9bb"/>
<rect x="57.4" y="4.9" width="2.2" height="2.2" fill="#2aa9bb"/>
<rect x="54.5" y="8.2" width="2.2" height="2.2" fill="#2aa9bb"/>
<rect x="57.4" y="8.2" width="2.2" height="2.2" fill="#2aa9bb"/>
<rect x="54.5" y="11.5" width="2.2" height="2.2" fill="#2aa9bb"/>
<rect x="57.4" y="11.5" width="2.2" height="2.2" fill="#2aa9bb"/>
<rect x="3.0" y="3.0" width="9" height="1.2" fill="#36405f"/>
<rect x="3.0" y="11.5" width="9" height="1.2" fill="#36405f"/>
<rect x="24.0" y="3.0" width="9" height="1.2" fill="#36405f"/>
<rect x="24.0" y="11.5" width="9" height="1.2" fill="#36405f"/>
<rect x="43.0" y="3.0" width="9" height="1.2" fill="#36405f"/>
<rect x="43.0" y="11.5" width="9" height="1.2" fill="#36405f"/>
<rect x="0" y="16.0" width="64.0" height="2" fill="#414a6c"/>
<rect x="0" y="18.0" width="64.0" height="32" fill="#1e2640"/>
<rect x="5.0" y="18.0" width="1" height="32" fill="#343d5c"/>
<rect x="17.0" y="18.0" width="1" height="32" fill="#343d5c"/>
<rect x="29.0" y="18.0" width="1" height="32" fill="#343d5c"/>
<rect x="41.0" y="18.0" width="1" height="32" fill="#343d5c"/>
<rect x="43.0" y="18.0" width="1" height="32" fill="#343d5c"/>
<rect x="8.5" y="21.5" width="3" height="2.4" fill="#2aa9bb"/>
<rect x="20.5" y="21.5" width="3" height="2.4" fill="#2aa9bb"/>
<rect x="32.5" y="21.5" width="3" height="2.4" fill="#2aa9bb"/>
<rect x="48" y="21.5" width="8" height="2.4" fill="#d9434f"/>
<rect x="49" y="32.0" width="8" height="9" fill="#4c5474"/>
<rect x="0" y="50.0" width="64.0" height="2" fill="#414a6c"/>
<rect x="0" y="52.0" width="64.0" height="26" fill="#29314f"/>
<rect x="1.2" y="53.5" width="5" height="23" fill="#333c5b" stroke="#3f4869" stroke-width="0.6"/>
<rect x="2.7" y="55.0" width="2" height="2" fill="#2aa9bb"/>
<rect x="7.5" y="53.5" width="5" height="23" fill="#333c5b" stroke="#3f4869" stroke-width="0.6"/>
<rect x="9.0" y="55.0" width="2" height="2" fill="#2aa9bb"/>
<rect x="13.8" y="53.5" width="5" height="23" fill="#333c5b" stroke="#3f4869" stroke-width="0.6"/>
<rect x="15.3" y="55.0" width="2" height="2" fill="#2aa9bb"/>
<rect x="20.1" y="53.5" width="5" height="23" fill="#333c5b" stroke="#3f4869" stroke-width="0.6"/>
<rect x="21.6" y="55.0" width="2" height="2" fill="#2aa9bb"/>
<rect x="26.4" y="53.5" width="5" height="23" fill="#333c5b" stroke="#3f4869" stroke-width="0.6"/>
<rect x="27.9" y="55.0" width="2" height="2" fill="#2aa9bb"/>
<rect x="32.7" y="53.5" width="5" height="23" fill="#333c5b" stroke="#3f4869" stroke-width="0.6"/>
<rect x="34.2" y="55.0" width="2" height="2" fill="#2aa9bb"/>
<rect x="39.0" y="53.5" width="5" height="23" fill="#333c5b" stroke="#3f4869" stroke-width="0.6"/>
<rect x="40.5" y="55.0" width="2" height="2" fill="#2aa9bb"/>
<rect x="45.3" y="53.5" width="5" height="23" fill="#333c5b" stroke="#3f4869" stroke-width="0.6"/>
<rect x="46.8" y="55.0" width="2" height="2" fill="#2aa9bb"/>
<rect x="51.6" y="53.5" width="5" height="23" fill="#333c5b" stroke="#3f4869" stroke-width="0.6"/>
<rect x="53.1" y="55.0" width="2" height="2" fill="#2aa9bb"/>
<rect x="57.9" y="53.5" width="5" height="23" fill="#333c5b" stroke="#3f4869" stroke-width="0.6"/>
<rect x="59.4" y="55.0" width="2" height="2" fill="#2aa9bb"/>
<rect x="0" y="78.0" width="64.0" height="4" fill="#262d48"/>
<rect x="0" y="82.0" width="64.0" height="16" fill="#2a3250"/>
<rect x="0" y="82.0" width="64.0" height="1" fill="#414a6c"/>
<rect x="0" y="90.0" width="64.0" height="0.8" fill="#3a4363"/>
<rect x="15.5" y="83.6" width="2.2" height="2.2" fill="#2aa9bb"/>
<rect x="18.4" y="83.6" width="2.2" height="2.2" fill="#2aa9bb"/>
<rect x="15.5" y="86.9" width="2.2" height="2.2" fill="#2aa9bb"/>
<rect x="18.4" y="86.9" width="2.2" height="2.2" fill="#2aa9bb"/>
<rect x="15.5" y="90.2" width="2.2" height="2.2" fill="#2aa9bb"/>
<rect x="18.4" y="90.2" width="2.2" height="2.2" fill="#2aa9bb"/>
<rect x="15.5" y="93.5" width="2.2" height="2.2" fill="#2aa9bb"/>
<rect x="18.4" y="93.5" width="2.2" height="2.2" fill="#2aa9bb"/>
<rect x="35.5" y="83.6" width="2.2" height="2.2" fill="#2aa9bb"/>
<rect x="38.4" y="83.6" width="2.2" height="2.2" fill="#2aa9bb"/>
<rect x="35.5" y="86.9" width="2.2" height="2.2" fill="#2aa9bb"/>
<rect x="38.4" y="86.9" width="2.2" height="2.2" fill="#2aa9bb"/>
<rect x="35.5" y="90.2" width="2.2" height="2.2" fill="#2aa9bb"/>
<rect x="38.4" y="90.2" width="2.2" height="2.2" fill="#2aa9bb"/>
<rect x="35.5" y="93.5" width="2.2" height="2.2" fill="#2aa9bb"/>
<rect x="38.4" y="93.5" width="2.2" height="2.2" fill="#2aa9bb"/>
<rect x="54.5" y="83.6" width="2.2" height="2.2" fill="#2aa9bb"/>
<rect x="57.4" y="83.6" width="2.2" height="2.2" fill="#2aa9bb"/>
<rect x="54.5" y="86.9" width="2.2" height="2.2" fill="#2aa9bb"/>
<rect x="57.4" y="86.9" width="2.2" height="2.2" fill="#2aa9bb"/>
<rect x="54.5" y="90.2" width="2.2" height="2.2" fill="#2aa9bb"/>
<rect x="57.4" y="90.2" width="2.2" height="2.2" fill="#2aa9bb"/>
<rect x="54.5" y="93.5" width="2.2" height="2.2" fill="#2aa9bb"/>
<rect x="57.4" y="93.5" width="2.2" height="2.2" fill="#2aa9bb"/>
<rect x="3.0" y="85.0" width="9" height="1.2" fill="#36405f"/>
<rect x="3.0" y="93.5" width="9" height="1.2" fill="#36405f"/>
<rect x="24.0" y="85.0" width="9" height="1.2" fill="#36405f"/>
<rect x="24.0" y="93.5" width="9" height="1.2" fill="#36405f"/>
<rect x="43.0" y="85.0" width="9" height="1.2" fill="#36405f"/>
<rect x="43.0" y="93.5" width="9" height="1.2" fill="#36405f"/>
<rect x="0" y="98.0" width="64.0" height="2" fill="#414a6c"/>
<rect x="0" y="100.0" width="64.0" height="32" fill="#1e2640"/>
<rect x="5.0" y="100.0" width="1" height="32" fill="#343d5c"/>
<rect x="17.0" y="100.0" width="1" height="32" fill="#343d5c"/>
<rect x="29.0" y="100.0" width="1" height="32" fill="#343d5c"/>
<rect x="41.0" y="100.0" width="1" height="32" fill="#343d5c"/>
<rect x="43.0" y="100.0" width="1" height="32" fill="#343d5c"/>
<rect x="8.5" y="103.5" width="3" height="2.4" fill="#2aa9bb"/>
<rect x="20.5" y="103.5" width="3" height="2.4" fill="#2aa9bb"/>
<rect x="32.5" y="103.5" width="3" height="2.4" fill="#2aa9bb"/>
<rect x="48" y="103.5" width="8" height="2.4" fill="#d9434f"/>
<rect x="49" y="114.0" width="8" height="9" fill="#4c5474"/>
<rect x="0" y="132.0" width="64.0" height="2" fill="#414a6c"/>
<rect x="0" y="134.0" width="64.0" height="26" fill="#29314f"/>
<rect x="1.2" y="135.5" width="5" height="23" fill="#333c5b" stroke="#3f4869" stroke-width="0.6"/>
<rect x="2.7" y="137.0" width="2" height="2" fill="#2aa9bb"/>
<rect x="7.5" y="135.5" width="5" height="23" fill="#333c5b" stroke="#3f4869" stroke-width="0.6"/>
<rect x="9.0" y="137.0" width="2" height="2" fill="#2aa9bb"/>
<rect x="13.8" y="135.5" width="5" height="23" fill="#333c5b" stroke="#3f4869" stroke-width="0.6"/>
<rect x="15.3" y="137.0" width="2" height="2" fill="#2aa9bb"/>
<rect x="20.1" y="135.5" width="5" height="23" fill="#333c5b" stroke="#3f4869" stroke-width="0.6"/>
<rect x="21.6" y="137.0" width="2" height="2" fill="#2aa9bb"/>
<rect x="26.4" y="135.5" width="5" height="23" fill="#333c5b" stroke="#3f4869" stroke-width="0.6"/>
<rect x="27.9" y="137.0" width="2" height="2" fill="#2aa9bb"/>
<rect x="32.7" y="135.5" width="5" height="23" fill="#333c5b" stroke="#3f4869" stroke-width="0.6"/>
<rect x="34.2" y="137.0" width="2" height="2" fill="#2aa9bb"/>
<rect x="39.0" y="135.5" width="5" height="23" fill="#333c5b" stroke="#3f4869" stroke-width="0.6"/>
<rect x="40.5" y="137.0" width="2" height="2" fill="#2aa9bb"/>
<rect x="45.3" y="135.5" width="5" height="23" fill="#333c5b" stroke="#3f4869" stroke-width="0.6"/>
<rect x="46.8" y="137.0" width="2" height="2" fill="#2aa9bb"/>
<rect x="51.6" y="135.5" width="5" height="23" fill="#333c5b" stroke="#3f4869" stroke-width="0.6"/>
<rect x="53.1" y="137.0" width="2" height="2" fill="#2aa9bb"/>
<rect x="57.9" y="135.5" width="5" height="23" fill="#333c5b" stroke="#3f4869" stroke-width="0.6"/>
<rect x="59.4" y="137.0" width="2" height="2" fill="#2aa9bb"/>
<rect x="0" y="160.0" width="64.0" height="4" fill="#262d48"/>
<rect x="0" y="164.0" width="64.0" height="16" fill="#2a3250"/>
<rect x="0" y="164.0" width="64.0" height="1" fill="#414a6c"/>
<rect x="0" y="172.0" width="64.0" height="0.8" fill="#3a4363"/>
<rect x="15.5" y="165.6" width="2.2" height="2.2" fill="#2aa9bb"/>
<rect x="18.4" y="165.6" width="2.2" height="2.2" fill="#2aa9bb"/>
<rect x="15.5" y="168.9" width="2.2" height="2.2" fill="#2aa9bb"/>
<rect x="18.4" y="168.9" width="2.2" height="2.2" fill="#2aa9bb"/>
<rect x="15.5" y="172.2" width="2.2" height="2.2" fill="#2aa9bb"/>
<rect x="18.4" y="172.2" width="2.2" height="2.2" fill="#2aa9bb"/>
<rect x="15.5" y="175.5" width="2.2" height="2.2" fill="#2aa9bb"/>
<rect x="18.4" y="175.5" width="2.2" height="2.2" fill="#2aa9bb"/>
<rect x="35.5" y="165.6" width="2.2" height="2.2" fill="#2aa9bb"/>
<rect x="38.4" y="165.6" width="2.2" height="2.2" fill="#2aa9bb"/>
<rect x="35.5" y="168.9" width="2.2" height="2.2" fill="#2aa9bb"/>
<rect x="38.4" y="168.9" width="2.2" height="2.2" fill="#2aa9bb"/>
<rect x="35.5" y="172.2" width="2.2" height="2.2" fill="#2aa9bb"/>
<rect x="38.4" y="172.2" width="2.2" height="2.2" fill="#2aa9bb"/>
<rect x="35.5" y="175.5" width="2.2" height="2.2" fill="#2aa9bb"/>
<rect x="38.4" y="175.5" width="2.2" height="2.2" fill="#2aa9bb"/>
<rect x="54.5" y="165.6" width="2.2" height="2.2" fill="#2aa9bb"/>
<rect x="57.4" y="165.6" width="2.2" height="2.2" fill="#2aa9bb"/>
<rect x="54.5" y="168.9" width="2.2" height="2.2" fill="#2aa9bb"/>
<rect x="57.4" y="168.9" width="2.2" height="2.2" fill="#2aa9bb"/>
<rect x="54.5" y="172.2" width="2.2" height="2.2" fill="#2aa9bb"/>
<rect x="57.4" y="172.2" width="2.2" height="2.2" fill="#2aa9bb"/>
<rect x="54.5" y="175.5" width="2.2" height="2.2" fill="#2aa9bb"/>
<rect x="57.4" y="175.5" width="2.2" height="2.2" fill="#2aa9bb"/>
<rect x="3.0" y="167.0" width="9" height="1.2" fill="#36405f"/>
<rect x="3.0" y="175.5" width="9" height="1.2" fill="#36405f"/>
<rect x="24.0" y="167.0" width="9" height="1.2" fill="#36405f"/>
<rect x="24.0" y="175.5" width="9" height="1.2" fill="#36405f"/>
<rect x="43.0" y="167.0" width="9" height="1.2" fill="#36405f"/>
<rect x="43.0" y="175.5" width="9" height="1.2" fill="#36405f"/>
<rect x="0" y="180.0" width="64.0" height="2" fill="#414a6c"/>
<rect x="0" y="182.0" width="64.0" height="32" fill="#1e2640"/>
<rect x="5.0" y="182.0" width="1" height="32" fill="#343d5c"/>
<rect x="17.0" y="182.0" width="1" height="32" fill="#343d5c"/>
<rect x="29.0" y="182.0" width="1" height="32" fill="#343d5c"/>
<rect x="41.0" y="182.0" width="1" height="32" fill="#343d5c"/>
<rect x="43.0" y="182.0" width="1" height="32" fill="#343d5c"/>
<rect x="8.5" y="185.5" width="3" height="2.4" fill="#2aa9bb"/>
<rect x="20.5" y="185.5" width="3" height="2.4" fill="#2aa9bb"/>
<rect x="32.5" y="185.5" width="3" height="2.4" fill="#2aa9bb"/>
<rect x="48" y="185.5" width="8" height="2.4" fill="#d9434f"/>
<rect x="49" y="196.0" width="8" height="9" fill="#4c5474"/>
<rect x="0" y="214.0" width="64.0" height="2" fill="#414a6c"/>
<rect x="0" y="216.0" width="64.0" height="26" fill="#29314f"/>
<rect x="1.2" y="217.5" width="5" height="23" fill="#333c5b" stroke="#3f4869" stroke-width="0.6"/>
<rect x="2.7" y="219.0" width="2" height="2" fill="#2aa9bb"/>
<rect x="7.5" y="217.5" width="5" height="23" fill="#333c5b" stroke="#3f4869" stroke-width="0.6"/>
<rect x="9.0" y="219.0" width="2" height="2" fill="#2aa9bb"/>
<rect x="13.8" y="217.5" width="5" height="23" fill="#333c5b" stroke="#3f4869" stroke-width="0.6"/>
<rect x="15.3" y="219.0" width="2" height="2" fill="#2aa9bb"/>
<rect x="20.1" y="217.5" width="5" height="23" fill="#333c5b" stroke="#3f4869" stroke-width="0.6"/>
<rect x="21.6" y="219.0" width="2" height="2" fill="#2aa9bb"/>
<rect x="26.4" y="217.5" width="5" height="23" fill="#333c5b" stroke="#3f4869" stroke-width="0.6"/>
<rect x="27.9" y="219.0" width="2" height="2" fill="#2aa9bb"/>
<rect x="32.7" y="217.5" width="5" height="23" fill="#333c5b" stroke="#3f4869" stroke-width="0.6"/>
<rect x="34.2" y="219.0" width="2" height="2" fill="#2aa9bb"/>
<rect x="39.0" y="217.5" width="5" height="23" fill="#333c5b" stroke="#3f4869" stroke-width="0.6"/>
<rect x="40.5" y="219.0" width="2" height="2" fill="#2aa9bb"/>
<rect x="45.3" y="217.5" width="5" height="23" fill="#333c5b" stroke="#3f4869" stroke-width="0.6"/>
<rect x="46.8" y="219.0" width="2" height="2" fill="#2aa9bb"/>
<rect x="51.6" y="217.5" width="5" height="23" fill="#333c5b" stroke="#3f4869" stroke-width="0.6"/>
<rect x="53.1" y="219.0" width="2" height="2" fill="#2aa9bb"/>
<rect x="57.9" y="217.5" width="5" height="23" fill="#333c5b" stroke="#3f4869" stroke-width="0.6"/>
<rect x="59.4" y="219.0" width="2" height="2" fill="#2aa9bb"/>
<rect x="0" y="242.0" width="64.0" height="4" fill="#262d48"/>
<polygon points="0,25.0 0,44.0 64.0,131.0 64.0,112.0" fill="#ffffff" fill-opacity="0.1"/>
<polygon points="0,99.0 0,125.0 64.0,212.0 64.0,186.0" fill="#ffffff" fill-opacity="0.1"/>
</svg>
<circle cx="80.4" cy="102.5" r="3.1" fill="#1e2024"/>
<circle cx="80.9" cy="103" r="1.2" fill="#55575c"/>
<rect x="78.2" y="107.5" width="4.6" height="29" rx="2" fill="#1e2024"/>
<rect x="80.6" y="109" width="1.2" height="25" fill="#3a3c40"/>
</g>
<g fill="none" stroke="#aeb2cc" stroke-width="1.5" stroke-linecap="round" stroke-linejoin="round" opacity="0.85">
<path d="M1338.8,654.4 Q1345,648 1351.3,651.3 Q1354,653 1353.6,658 L1352.8,664 Q1353,671 1357.5,673.2 Q1363,674 1364.6,668.5 Q1363,665 1357.5,668.5 Q1354,674 1356.7,681.8"/>
<path d="M1340.3,655.2 Q1340,661 1341.1,663.8 L1343.5,667.7"/>
<path d="M1353.6,656 Q1357,651 1360.7,651.3 Q1365,651 1366.9,649.7 L1370.8,645 Q1374,648 1374.7,650.5 L1376.3,655.2"/>
</g>
<path d="M1354.4,651.3 L1362.8,643" stroke="#c9603e" stroke-width="2.6" stroke-linecap="round"/>
<g transform="matrix(1,-0.550,0,1,1316.25,608.20)">
<rect x="15.5" y="175" width="8.5" height="11" fill="#d0643c" fill-opacity="0.85"/>
<rect x="10.5" y="178" width="3.5" height="9" fill="#d0643c" fill-opacity="0.45"/>
<rect x="26.5" y="172.5" width="16" height="3.5" fill="#d0643c" fill-opacity="0.6"/>
<rect x="26.5" y="177.5" width="14" height="1.5" fill="#6a7394" fill-opacity="0.6"/>
<rect x="54" y="17" width="12" height="1.5" fill="#6a7394" fill-opacity="0.7"/>
</g>
<polygon points="1080.3,673.6 1142.6,708.8 1142.6,972.8 1080.3,937.6" fill="#0a0b0f"  stroke="#0a0b0f" stroke-width="0.5" stroke-linejoin="round"/>
<polygon points="1080.3,930.1 1142.6,964.3 1142.6,972.8 1080.3,937.6" fill="#a1a3a6"  stroke="#a1a3a6" stroke-width="0.5" stroke-linejoin="round"/>
<polygon points="1080.3,673.6 1160.4,627.5 1225.0,663.5 1142.6,708.8" fill="#262930"  stroke="#262930" stroke-width="0.5" stroke-linejoin="round"/>
<g transform="matrix(1,-0.550,0,1,1142.55,708.80)">
<rect x="0" y="0" width="82.4" height="264.0" fill="#0c0d10"/>
<rect x="0" y="256.0" width="82.4" height="8" fill="#949699"/>
<svg x="9" y="52" width="68" height="200" overflow="hidden">
<rect x="0" y="0" width="68.0" height="200.0" fill="#222a44"/>
<rect x="0" y="-52.0" width="68.0" height="16" fill="#2a3250"/>
<rect x="0" y="-52.0" width="68.0" height="1" fill="#414a6c"/>
<rect x="0" y="-44.0" width="68.0" height="0.8" fill="#3a4363"/>
<rect x="15.5" y="-50.4" width="2.2" height="2.2" fill="#2aa9bb"/>
<rect x="18.4" y="-50.4" width="2.2" height="2.2" fill="#2aa9bb"/>
<rect x="15.5" y="-47.1" width="2.2" height="2.2" fill="#2aa9bb"/>
<rect x="18.4" y="-47.1" width="2.2" height="2.2" fill="#2aa9bb"/>
<rect x="15.5" y="-43.8" width="2.2" height="2.2" fill="#2aa9bb"/>
<rect x="18.4" y="-43.8" width="2.2" height="2.2" fill="#2aa9bb"/>
<rect x="15.5" y="-40.5" width="2.2" height="2.2" fill="#2aa9bb"/>
<rect x="18.4" y="-40.5" width="2.2" height="2.2" fill="#2aa9bb"/>
<rect x="35.5" y="-50.4" width="2.2" height="2.2" fill="#2aa9bb"/>
<rect x="38.4" y="-50.4" width="2.2" height="2.2" fill="#2aa9bb"/>
<rect x="35.5" y="-47.1" width="2.2" height="2.2" fill="#2aa9bb"/>
<rect x="38.4" y="-47.1" width="2.2" height="2.2" fill="#2aa9bb"/>
<rect x="35.5" y="-43.8" width="2.2" height="2.2" fill="#2aa9bb"/>
<rect x="38.4" y="-43.8" width="2.2" height="2.2" fill="#2aa9bb"/>
<rect x="35.5" y="-40.5" width="2.2" height="2.2" fill="#2aa9bb"/>
<rect x="38.4" y="-40.5" width="2.2" height="2.2" fill="#2aa9bb"/>
<rect x="54.5" y="-50.4" width="2.2" height="2.2" fill="#2aa9bb"/>
<rect x="57.4" y="-50.4" width="2.2" height="2.2" fill="#2aa9bb"/>
<rect x="54.5" y="-47.1" width="2.2" height="2.2" fill="#2aa9bb"/>
<rect x="57.4" y="-47.1" width="2.2" height="2.2" fill="#2aa9bb"/>
<rect x="54.5" y="-43.8" width="2.2" height="2.2" fill="#2aa9bb"/>
<rect x="57.4" y="-43.8" width="2.2" height="2.2" fill="#2aa9bb"/>
<rect x="54.5" y="-40.5" width="2.2" height="2.2" fill="#2aa9bb"/>
<rect x="57.4" y="-40.5" width="2.2" height="2.2" fill="#2aa9bb"/>
<rect x="3.0" y="-49.0" width="9" height="1.2" fill="#36405f"/>
<rect x="3.0" y="-40.5" width="9" height="1.2" fill="#36405f"/>
<rect x="24.0" y="-49.0" width="9" height="1.2" fill="#36405f"/>
<rect x="24.0" y="-40.5" width="9" height="1.2" fill="#36405f"/>
<rect x="43.0" y="-49.0" width="9" height="1.2" fill="#36405f"/>
<rect x="43.0" y="-40.5" width="9" height="1.2" fill="#36405f"/>
<rect x="0" y="-36.0" width="68.0" height="2" fill="#414a6c"/>
<rect x="0" y="-34.0" width="68.0" height="32" fill="#1e2640"/>
<rect x="5.0" y="-34.0" width="1" height="32" fill="#343d5c"/>
<rect x="17.0" y="-34.0" width="1" height="32" fill="#343d5c"/>
<rect x="29.0" y="-34.0" width="1" height="32" fill="#343d5c"/>
<rect x="41.0" y="-34.0" width="1" height="32" fill="#343d5c"/>
<rect x="43.0" y="-34.0" width="1" height="32" fill="#343d5c"/>
<rect x="8.5" y="-30.5" width="3" height="2.4" fill="#2aa9bb"/>
<rect x="20.5" y="-30.5" width="3" height="2.4" fill="#2aa9bb"/>
<rect x="32.5" y="-30.5" width="3" height="2.4" fill="#2aa9bb"/>
<rect x="48" y="-30.5" width="8" height="2.4" fill="#d9434f"/>
<rect x="49" y="-20.0" width="8" height="9" fill="#4c5474"/>
<rect x="0" y="-2.0" width="68.0" height="2" fill="#414a6c"/>
<rect x="0" y="0.0" width="68.0" height="26" fill="#29314f"/>
<rect x="1.2" y="1.5" width="5" height="23" fill="#333c5b" stroke="#3f4869" stroke-width="0.6"/>
<rect x="2.7" y="3.0" width="2" height="2" fill="#2aa9bb"/>
<rect x="7.5" y="1.5" width="5" height="23" fill="#333c5b" stroke="#3f4869" stroke-width="0.6"/>
<rect x="9.0" y="3.0" width="2" height="2" fill="#2aa9bb"/>
<rect x="13.8" y="1.5" width="5" height="23" fill="#333c5b" stroke="#3f4869" stroke-width="0.6"/>
<rect x="15.3" y="3.0" width="2" height="2" fill="#2aa9bb"/>
<rect x="20.1" y="1.5" width="5" height="23" fill="#333c5b" stroke="#3f4869" stroke-width="0.6"/>
<rect x="21.6" y="3.0" width="2" height="2" fill="#2aa9bb"/>
<rect x="26.4" y="1.5" width="5" height="23" fill="#333c5b" stroke="#3f4869" stroke-width="0.6"/>
<rect x="27.9" y="3.0" width="2" height="2" fill="#2aa9bb"/>
<rect x="32.7" y="1.5" width="5" height="23" fill="#333c5b" stroke="#3f4869" stroke-width="0.6"/>
<rect x="34.2" y="3.0" width="2" height="2" fill="#2aa9bb"/>
<rect x="39.0" y="1.5" width="5" height="23" fill="#333c5b" stroke="#3f4869" stroke-width="0.6"/>
<rect x="40.5" y="3.0" width="2" height="2" fill="#2aa9bb"/>
<rect x="45.3" y="1.5" width="5" height="23" fill="#333c5b" stroke="#3f4869" stroke-width="0.6"/>
<rect x="46.8" y="3.0" width="2" height="2" fill="#2aa9bb"/>
<rect x="51.6" y="1.5" width="5" height="23" fill="#333c5b" stroke="#3f4869" stroke-width="0.6"/>
<rect x="53.1" y="3.0" width="2" height="2" fill="#2aa9bb"/>
<rect x="57.9" y="1.5" width="5" height="23" fill="#333c5b" stroke="#3f4869" stroke-width="0.6"/>
<rect x="59.4" y="3.0" width="2" height="2" fill="#2aa9bb"/>
<rect x="0" y="26.0" width="68.0" height="4" fill="#262d48"/>
<rect x="0" y="30.0" width="68.0" height="16" fill="#2a3250"/>
<rect x="0" y="30.0" width="68.0" height="1" fill="#414a6c"/>
<rect x="0" y="38.0" width="68.0" height="0.8" fill="#3a4363"/>
<rect x="15.5" y="31.6" width="2.2" height="2.2" fill="#2aa9bb"/>
<rect x="18.4" y="31.6" width="2.2" height="2.2" fill="#2aa9bb"/>
<rect x="15.5" y="34.9" width="2.2" height="2.2" fill="#2aa9bb"/>
<rect x="18.4" y="34.9" width="2.2" height="2.2" fill="#2aa9bb"/>
<rect x="15.5" y="38.2" width="2.2" height="2.2" fill="#2aa9bb"/>
<rect x="18.4" y="38.2" width="2.2" height="2.2" fill="#2aa9bb"/>
<rect x="15.5" y="41.5" width="2.2" height="2.2" fill="#2aa9bb"/>
<rect x="18.4" y="41.5" width="2.2" height="2.2" fill="#2aa9bb"/>
<rect x="35.5" y="31.6" width="2.2" height="2.2" fill="#2aa9bb"/>
<rect x="38.4" y="31.6" width="2.2" height="2.2" fill="#2aa9bb"/>
<rect x="35.5" y="34.9" width="2.2" height="2.2" fill="#2aa9bb"/>
<rect x="38.4" y="34.9" width="2.2" height="2.2" fill="#2aa9bb"/>
<rect x="35.5" y="38.2" width="2.2" height="2.2" fill="#2aa9bb"/>
<rect x="38.4" y="38.2" width="2.2" height="2.2" fill="#2aa9bb"/>
<rect x="35.5" y="41.5" width="2.2" height="2.2" fill="#2aa9bb"/>
<rect x="38.4" y="41.5" width="2.2" height="2.2" fill="#2aa9bb"/>
<rect x="54.5" y="31.6" width="2.2" height="2.2" fill="#2aa9bb"/>
<rect x="57.4" y="31.6" width="2.2" height="2.2" fill="#2aa9bb"/>
<rect x="54.5" y="34.9" width="2.2" height="2.2" fill="#2aa9bb"/>
<rect x="57.4" y="34.9" width="2.2" height="2.2" fill="#2aa9bb"/>
<rect x="54.5" y="38.2" width="2.2" height="2.2" fill="#2aa9bb"/>
<rect x="57.4" y="38.2" width="2.2" height="2.2" fill="#2aa9bb"/>
<rect x="54.5" y="41.5" width="2.2" height="2.2" fill="#2aa9bb"/>
<rect x="57.4" y="41.5" width="2.2" height="2.2" fill="#2aa9bb"/>
<rect x="3.0" y="33.0" width="9" height="1.2" fill="#36405f"/>
<rect x="3.0" y="41.5" width="9" height="1.2" fill="#36405f"/>
<rect x="24.0" y="33.0" width="9" height="1.2" fill="#36405f"/>
<rect x="24.0" y="41.5" width="9" height="1.2" fill="#36405f"/>
<rect x="43.0" y="33.0" width="9" height="1.2" fill="#36405f"/>
<rect x="43.0" y="41.5" width="9" height="1.2" fill="#36405f"/>
<rect x="0" y="46.0" width="68.0" height="2" fill="#414a6c"/>
<rect x="0" y="48.0" width="68.0" height="32" fill="#1e2640"/>
<rect x="5.0" y="48.0" width="1" height="32" fill="#343d5c"/>
<rect x="17.0" y="48.0" width="1" height="32" fill="#343d5c"/>
<rect x="29.0" y="48.0" width="1" height="32" fill="#343d5c"/>
<rect x="41.0" y="48.0" width="1" height="32" fill="#343d5c"/>
<rect x="43.0" y="48.0" width="1" height="32" fill="#343d5c"/>
<rect x="8.5" y="51.5" width="3" height="2.4" fill="#2aa9bb"/>
<rect x="20.5" y="51.5" width="3" height="2.4" fill="#2aa9bb"/>
<rect x="32.5" y="51.5" width="3" height="2.4" fill="#2aa9bb"/>
<rect x="48" y="51.5" width="8" height="2.4" fill="#d9434f"/>
<rect x="49" y="62.0" width="8" height="9" fill="#4c5474"/>
<rect x="0" y="80.0" width="68.0" height="2" fill="#414a6c"/>
<rect x="0" y="82.0" width="68.0" height="26" fill="#29314f"/>
<rect x="1.2" y="83.5" width="5" height="23" fill="#333c5b" stroke="#3f4869" stroke-width="0.6"/>
<rect x="2.7" y="85.0" width="2" height="2" fill="#2aa9bb"/>
<rect x="7.5" y="83.5" width="5" height="23" fill="#333c5b" stroke="#3f4869" stroke-width="0.6"/>
<rect x="9.0" y="85.0" width="2" height="2" fill="#2aa9bb"/>
<rect x="13.8" y="83.5" width="5" height="23" fill="#333c5b" stroke="#3f4869" stroke-width="0.6"/>
<rect x="15.3" y="85.0" width="2" height="2" fill="#2aa9bb"/>
<rect x="20.1" y="83.5" width="5" height="23" fill="#333c5b" stroke="#3f4869" stroke-width="0.6"/>
<rect x="21.6" y="85.0" width="2" height="2" fill="#2aa9bb"/>
<rect x="26.4" y="83.5" width="5" height="23" fill="#333c5b" stroke="#3f4869" stroke-width="0.6"/>
<rect x="27.9" y="85.0" width="2" height="2" fill="#2aa9bb"/>
<rect x="32.7" y="83.5" width="5" height="23" fill="#333c5b" stroke="#3f4869" stroke-width="0.6"/>
<rect x="34.2" y="85.0" width="2" height="2" fill="#2aa9bb"/>
<rect x="39.0" y="83.5" width="5" height="23" fill="#333c5b" stroke="#3f4869" stroke-width="0.6"/>
<rect x="40.5" y="85.0" width="2" height="2" fill="#2aa9bb"/>
<rect x="45.3" y="83.5" width="5" height="23" fill="#333c5b" stroke="#3f4869" stroke-width="0.6"/>
<rect x="46.8" y="85.0" width="2" height="2" fill="#2aa9bb"/>
<rect x="51.6" y="83.5" width="5" height="23" fill="#333c5b" stroke="#3f4869" stroke-width="0.6"/>
<rect x="53.1" y="85.0" width="2" height="2" fill="#2aa9bb"/>
<rect x="57.9" y="83.5" width="5" height="23" fill="#333c5b" stroke="#3f4869" stroke-width="0.6"/>
<rect x="59.4" y="85.0" width="2" height="2" fill="#2aa9bb"/>
<rect x="0" y="108.0" width="68.0" height="4" fill="#262d48"/>
<rect x="0" y="112.0" width="68.0" height="16" fill="#2a3250"/>
<rect x="0" y="112.0" width="68.0" height="1" fill="#414a6c"/>
<rect x="0" y="120.0" width="68.0" height="0.8" fill="#3a4363"/>
<rect x="15.5" y="113.6" width="2.2" height="2.2" fill="#2aa9bb"/>
<rect x="18.4" y="113.6" width="2.2" height="2.2" fill="#2aa9bb"/>
<rect x="15.5" y="116.9" width="2.2" height="2.2" fill="#2aa9bb"/>
<rect x="18.4" y="116.9" width="2.2" height="2.2" fill="#2aa9bb"/>
<rect x="15.5" y="120.2" width="2.2" height="2.2" fill="#2aa9bb"/>
<rect x="18.4" y="120.2" width="2.2" height="2.2" fill="#2aa9bb"/>
<rect x="15.5" y="123.5" width="2.2" height="2.2" fill="#2aa9bb"/>
<rect x="18.4" y="123.5" width="2.2" height="2.2" fill="#2aa9bb"/>
<rect x="35.5" y="113.6" width="2.2" height="2.2" fill="#2aa9bb"/>
<rect x="38.4" y="113.6" width="2.2" height="2.2" fill="#2aa9bb"/>
<rect x="35.5" y="116.9" width="2.2" height="2.2" fill="#2aa9bb"/>
<rect x="38.4" y="116.9" width="2.2" height="2.2" fill="#2aa9bb"/>
<rect x="35.5" y="120.2" width="2.2" height="2.2" fill="#2aa9bb"/>
<rect x="38.4" y="120.2" width="2.2" height="2.2" fill="#2aa9bb"/>
<rect x="35.5" y="123.5" width="2.2" height="2.2" fill="#2aa9bb"/>
<rect x="38.4" y="123.5" width="2.2" height="2.2" fill="#2aa9bb"/>
<rect x="54.5" y="113.6" width="2.2" height="2.2" fill="#2aa9bb"/>
<rect x="57.4" y="113.6" width="2.2" height="2.2" fill="#2aa9bb"/>
<rect x="54.5" y="116.9" width="2.2" height="2.2" fill="#2aa9bb"/>
<rect x="57.4" y="116.9" width="2.2" height="2.2" fill="#2aa9bb"/>
<rect x="54.5" y="120.2" width="2.2" height="2.2" fill="#2aa9bb"/>
<rect x="57.4" y="120.2" width="2.2" height="2.2" fill="#2aa9bb"/>
<rect x="54.5" y="123.5" width="2.2" height="2.2" fill="#2aa9bb"/>
<rect x="57.4" y="123.5" width="2.2" height="2.2" fill="#2aa9bb"/>
<rect x="3.0" y="115.0" width="9" height="1.2" fill="#36405f"/>
<rect x="3.0" y="123.5" width="9" height="1.2" fill="#36405f"/>
<rect x="24.0" y="115.0" width="9" height="1.2" fill="#36405f"/>
<rect x="24.0" y="123.5" width="9" height="1.2" fill="#36405f"/>
<rect x="43.0" y="115.0" width="9" height="1.2" fill="#36405f"/>
<rect x="43.0" y="123.5" width="9" height="1.2" fill="#36405f"/>
<rect x="0" y="128.0" width="68.0" height="2" fill="#414a6c"/>
<rect x="0" y="130.0" width="68.0" height="32" fill="#1e2640"/>
<rect x="5.0" y="130.0" width="1" height="32" fill="#343d5c"/>
<rect x="17.0" y="130.0" width="1" height="32" fill="#343d5c"/>
<rect x="29.0" y="130.0" width="1" height="32" fill="#343d5c"/>
<rect x="41.0" y="130.0" width="1" height="32" fill="#343d5c"/>
<rect x="43.0" y="130.0" width="1" height="32" fill="#343d5c"/>
<rect x="8.5" y="133.5" width="3" height="2.4" fill="#2aa9bb"/>
<rect x="20.5" y="133.5" width="3" height="2.4" fill="#2aa9bb"/>
<rect x="32.5" y="133.5" width="3" height="2.4" fill="#2aa9bb"/>
<rect x="48" y="133.5" width="8" height="2.4" fill="#d9434f"/>
<rect x="49" y="144.0" width="8" height="9" fill="#4c5474"/>
<rect x="0" y="162.0" width="68.0" height="2" fill="#414a6c"/>
<rect x="0" y="164.0" width="68.0" height="26" fill="#29314f"/>
<rect x="1.2" y="165.5" width="5" height="23" fill="#333c5b" stroke="#3f4869" stroke-width="0.6"/>
<rect x="2.7" y="167.0" width="2" height="2" fill="#2aa9bb"/>
<rect x="7.5" y="165.5" width="5" height="23" fill="#333c5b" stroke="#3f4869" stroke-width="0.6"/>
<rect x="9.0" y="167.0" width="2" height="2" fill="#2aa9bb"/>
<rect x="13.8" y="165.5" width="5" height="23" fill="#333c5b" stroke="#3f4869" stroke-width="0.6"/>
<rect x="15.3" y="167.0" width="2" height="2" fill="#2aa9bb"/>
<rect x="20.1" y="165.5" width="5" height="23" fill="#333c5b" stroke="#3f4869" stroke-width="0.6"/>
<rect x="21.6" y="167.0" width="2" height="2" fill="#2aa9bb"/>
<rect x="26.4" y="165.5" width="5" height="23" fill="#333c5b" stroke="#3f4869" stroke-width="0.6"/>
<rect x="27.9" y="167.0" width="2" height="2" fill="#2aa9bb"/>
<rect x="32.7" y="165.5" width="5" height="23" fill="#333c5b" stroke="#3f4869" stroke-width="0.6"/>
<rect x="34.2" y="167.0" width="2" height="2" fill="#2aa9bb"/>
<rect x="39.0" y="165.5" width="5" height="23" fill="#333c5b" stroke="#3f4869" stroke-width="0.6"/>
<rect x="40.5" y="167.0" width="2" height="2" fill="#2aa9bb"/>
<rect x="45.3" y="165.5" width="5" height="23" fill="#333c5b" stroke="#3f4869" stroke-width="0.6"/>
<rect x="46.8" y="167.0" width="2" height="2" fill="#2aa9bb"/>
<rect x="51.6" y="165.5" width="5" height="23" fill="#333c5b" stroke="#3f4869" stroke-width="0.6"/>
<rect x="53.1" y="167.0" width="2" height="2" fill="#2aa9bb"/>
<rect x="57.9" y="165.5" width="5" height="23" fill="#333c5b" stroke="#3f4869" stroke-width="0.6"/>
<rect x="59.4" y="167.0" width="2" height="2" fill="#2aa9bb"/>
<rect x="0" y="190.0" width="68.0" height="4" fill="#262d48"/>
<rect x="0" y="194.0" width="68.0" height="16" fill="#2a3250"/>
<rect x="0" y="194.0" width="68.0" height="1" fill="#414a6c"/>
<rect x="0" y="202.0" width="68.0" height="0.8" fill="#3a4363"/>
<rect x="15.5" y="195.6" width="2.2" height="2.2" fill="#2aa9bb"/>
<rect x="18.4" y="195.6" width="2.2" height="2.2" fill="#2aa9bb"/>
<rect x="15.5" y="198.9" width="2.2" height="2.2" fill="#2aa9bb"/>
<rect x="18.4" y="198.9" width="2.2" height="2.2" fill="#2aa9bb"/>
<rect x="15.5" y="202.2" width="2.2" height="2.2" fill="#2aa9bb"/>
<rect x="18.4" y="202.2" width="2.2" height="2.2" fill="#2aa9bb"/>
<rect x="15.5" y="205.5" width="2.2" height="2.2" fill="#2aa9bb"/>
<rect x="18.4" y="205.5" width="2.2" height="2.2" fill="#2aa9bb"/>
<rect x="35.5" y="195.6" width="2.2" height="2.2" fill="#2aa9bb"/>
<rect x="38.4" y="195.6" width="2.2" height="2.2" fill="#2aa9bb"/>
<rect x="35.5" y="198.9" width="2.2" height="2.2" fill="#2aa9bb"/>
<rect x="38.4" y="198.9" width="2.2" height="2.2" fill="#2aa9bb"/>
<rect x="35.5" y="202.2" width="2.2" height="2.2" fill="#2aa9bb"/>
<rect x="38.4" y="202.2" width="2.2" height="2.2" fill="#2aa9bb"/>
<rect x="35.5" y="205.5" width="2.2" height="2.2" fill="#2aa9bb"/>
<rect x="38.4" y="205.5" width="2.2" height="2.2" fill="#2aa9bb"/>
<rect x="54.5" y="195.6" width="2.2" height="2.2" fill="#2aa9bb"/>
<rect x="57.4" y="195.6" width="2.2" height="2.2" fill="#2aa9bb"/>
<rect x="54.5" y="198.9" width="2.2" height="2.2" fill="#2aa9bb"/>
<rect x="57.4" y="198.9" width="2.2" height="2.2" fill="#2aa9bb"/>
<rect x="54.5" y="202.2" width="2.2" height="2.2" fill="#2aa9bb"/>
<rect x="57.4" y="202.2" width="2.2" height="2.2" fill="#2aa9bb"/>
<rect x="54.5" y="205.5" width="2.2" height="2.2" fill="#2aa9bb"/>
<rect x="57.4" y="205.5" width="2.2" height="2.2" fill="#2aa9bb"/>
<rect x="3.0" y="197.0" width="9" height="1.2" fill="#36405f"/>
<rect x="3.0" y="205.5" width="9" height="1.2" fill="#36405f"/>
<rect x="24.0" y="197.0" width="9" height="1.2" fill="#36405f"/>
<rect x="24.0" y="205.5" width="9" height="1.2" fill="#36405f"/>
<rect x="43.0" y="197.0" width="9" height="1.2" fill="#36405f"/>
<rect x="43.0" y="205.5" width="9" height="1.2" fill="#36405f"/>
<rect x="0" y="210.0" width="68.0" height="2" fill="#414a6c"/>
<rect x="0" y="212.0" width="68.0" height="32" fill="#1e2640"/>
<rect x="5.0" y="212.0" width="1" height="32" fill="#343d5c"/>
<rect x="17.0" y="212.0" width="1" height="32" fill="#343d5c"/>
<rect x="29.0" y="212.0" width="1" height="32" fill="#343d5c"/>
<rect x="41.0" y="212.0" width="1" height="32" fill="#343d5c"/>
<rect x="43.0" y="212.0" width="1" height="32" fill="#343d5c"/>
<rect x="8.5" y="215.5" width="3" height="2.4" fill="#2aa9bb"/>
<rect x="20.5" y="215.5" width="3" height="2.4" fill="#2aa9bb"/>
<rect x="32.5" y="215.5" width="3" height="2.4" fill="#2aa9bb"/>
<rect x="48" y="215.5" width="8" height="2.4" fill="#d9434f"/>
<rect x="49" y="226.0" width="8" height="9" fill="#4c5474"/>
<rect x="0" y="244.0" width="68.0" height="2" fill="#414a6c"/>
<rect x="0" y="246.0" width="68.0" height="26" fill="#29314f"/>
<rect x="1.2" y="247.5" width="5" height="23" fill="#333c5b" stroke="#3f4869" stroke-width="0.6"/>
<rect x="2.7" y="249.0" width="2" height="2" fill="#2aa9bb"/>
<rect x="7.5" y="247.5" width="5" height="23" fill="#333c5b" stroke="#3f4869" stroke-width="0.6"/>
<rect x="9.0" y="249.0" width="2" height="2" fill="#2aa9bb"/>
<rect x="13.8" y="247.5" width="5" height="23" fill="#333c5b" stroke="#3f4869" stroke-width="0.6"/>
<rect x="15.3" y="249.0" width="2" height="2" fill="#2aa9bb"/>
<rect x="20.1" y="247.5" width="5" height="23" fill="#333c5b" stroke="#3f4869" stroke-width="0.6"/>
<rect x="21.6" y="249.0" width="2" height="2" fill="#2aa9bb"/>
<rect x="26.4" y="247.5" width="5" height="23" fill="#333c5b" stroke="#3f4869" stroke-width="0.6"/>
<rect x="27.9" y="249.0" width="2" height="2" fill="#2aa9bb"/>
<rect x="32.7" y="247.5" width="5" height="23" fill="#333c5b" stroke="#3f4869" stroke-width="0.6"/>
<rect x="34.2" y="249.0" width="2" height="2" fill="#2aa9bb"/>
<rect x="39.0" y="247.5" width="5" height="23" fill="#333c5b" stroke="#3f4869" stroke-width="0.6"/>
<rect x="40.5" y="249.0" width="2" height="2" fill="#2aa9bb"/>
<rect x="45.3" y="247.5" width="5" height="23" fill="#333c5b" stroke="#3f4869" stroke-width="0.6"/>
<rect x="46.8" y="249.0" width="2" height="2" fill="#2aa9bb"/>
<rect x="51.6" y="247.5" width="5" height="23" fill="#333c5b" stroke="#3f4869" stroke-width="0.6"/>
<rect x="53.1" y="249.0" width="2" height="2" fill="#2aa9bb"/>
<rect x="57.9" y="247.5" width="5" height="23" fill="#333c5b" stroke="#3f4869" stroke-width="0.6"/>
<rect x="59.4" y="249.0" width="2" height="2" fill="#2aa9bb"/>
<rect x="0" y="272.0" width="68.0" height="4" fill="#262d48"/>
</svg>
<rect x="20" y="6" width="37" height="2.6" fill="#3a3c41"/>
<rect x="20" y="8.5" width="37" height="10" fill="#e4e4e2"/>
<circle cx="27.0" cy="15.0" r="1.6" fill="#55575a"/>
<circle cx="33.0" cy="13.0" r="1.2" fill="#55575a"/>
<circle cx="38.0" cy="12.0" r="1.0" fill="#55575a"/>
<circle cx="44.0" cy="14.0" r="1.3" fill="#55575a"/>
<circle cx="50.0" cy="11.0" r="1.0" fill="#55575a"/>
<rect x="57" y="3" width="14" height="11" fill="#2a2c31"/>
<rect x="20" y="18.5" width="51" height="33.5" fill="#0e0f12"/>
<rect x="20" y="18.5" width="51" height="2" fill="#2f3136"/>
<rect x="32.0" y="20.5" width="1" height="31" fill="#26282d"/>
<rect x="44.0" y="20.5" width="1" height="31" fill="#26282d"/>
<rect x="56.0" y="20.5" width="1" height="31" fill="#26282d"/>
<rect x="29.5" y="28.5" width="3" height="2.4" fill="#2aa9bb"/>
<rect x="41.5" y="28.5" width="3" height="2.4" fill="#2aa9bb"/>
<rect x="58.5" y="29" width="8" height="2.4" fill="#e8363f"/>
<rect x="60" y="38.5" width="7.5" height="11" fill="#4d4f55"/>
<rect x="78" y="0" width="4.4" height="264.0" fill="#26282c"/>
</g>
<polygon points="1149.6,963.0 1216.0,925.0 1216.0,997.0" fill="#b4bfda"  stroke="#b4bfda" stroke-width="0.5" stroke-linejoin="round"/>
<polygon points="1151.7,810.4 1200.0,781.0 1222.0,793.0 1185.0,826.0 1151.7,815.0" fill="#a8adc9"  stroke="#a8adc9" stroke-width="0.5" stroke-linejoin="round"/>
<polygon points="1160.5,803.5 1204.5,779.1 1217.2,786.0 1184.0,820.2 1165.0,809.0" fill="#404864"  stroke="#404864" stroke-width="0.5" stroke-linejoin="round"/>
<polygon points="1167.0,806.0 1205.0,785.0 1213.0,789.5 1181.0,812.5" fill="#1b2134"  stroke="#1b2134" stroke-width="0.5" stroke-linejoin="round"/>
<polygon points="1159.6,772.3 1202.6,750.8 1204.5,778.1 1160.5,803.5" fill="#2c3551"  stroke="#2c3551" stroke-width="0.5" stroke-linejoin="round"/>
<polygon points="1162.0,774.2 1200.6,752.7 1201.6,777.1 1162.5,798.6" fill="#020e23"  stroke="#020e23" stroke-width="0.5" stroke-linejoin="round"/>
<polygon points="1185.0,769.3 1195.7,764.0 1195.7,777.1 1185.0,782.5" fill="#3198a8"  stroke="#3198a8" stroke-width="0.5" stroke-linejoin="round"/>
<line x1="1166.9" y1="776.2" x2="1197.2" y2="758.6" stroke="#3198a8" stroke-width="1.2"/>
<line x1="1166.9" y1="780.1" x2="1180.1" y2="773.2" stroke="#3198a8" stroke-width="1.2"/>
<line x1="1166.9" y1="785.0" x2="1180.1" y2="777.6" stroke="#3198a8" stroke-width="1.2"/>
<line x1="1166.9" y1="793.3" x2="1180.1" y2="785.5" stroke="#3198a8" stroke-width="1.2"/>
<ellipse cx="1238" cy="974.5" rx="44" ry="18.5" transform="rotate(-27 1238 974.5)" fill="#b3b3b3"/>
<path d="M1207.4,842.0 C1209.5,839.1 1238.8,835.0 1241.0,837.0 C1243.2,839.0 1241.1,865.8 1241.0,872.0 C1240.9,878.2 1239.2,922.8 1239.0,930.0 C1238.8,937.2 1239.5,976.8 1238.0,980.0 C1236.5,983.2 1217.7,981.3 1216.0,978.0 C1214.3,974.7 1212.5,936.5 1212.0,930.0 C1211.5,923.5 1209.3,885.9 1209.0,880.0 C1208.7,874.1 1205.3,844.9 1207.4,842.0 Z" fill="#15344f" />
<path d="M1240.0,838.0 C1240.8,835.6 1251.0,832.5 1252.0,834.0 C1253.0,835.5 1254.5,854.3 1255.0,860.0 C1255.5,865.7 1258.5,912.9 1259.0,920.0 C1259.5,927.1 1263.3,963.5 1262.1,966.0 C1260.9,968.5 1242.4,962.4 1241.0,958.0 C1239.6,953.6 1240.6,905.9 1240.5,900.0 C1240.4,894.1 1240.0,874.1 1240.0,870.0 C1240.0,865.9 1239.2,840.4 1240.0,838.0 Z" fill="#0b1d36" />
<path d="M1202.0,981.0 C1202.2,980.2 1207.1,976.4 1208.0,976.0 C1208.9,975.6 1214.1,974.9 1216.0,975.0 C1217.9,975.1 1235.5,976.0 1237.0,977.0 C1238.5,978.0 1239.8,988.9 1239.0,990.0 C1238.2,991.1 1227.3,993.6 1225.0,993.5 C1222.7,993.4 1206.5,988.8 1205.0,988.0 C1203.5,987.2 1201.8,981.8 1202.0,981.0 Z" fill="#3d2015" />
<path d="M1241.0,955.0 C1241.5,954.3 1248.5,956.3 1250.0,957.0 C1251.5,957.7 1262.5,963.8 1263.4,965.0 C1264.3,966.2 1264.0,974.1 1263.5,975.0 C1263.0,975.9 1257.4,978.5 1256.0,978.0 C1254.6,977.5 1244.0,969.5 1243.0,968.0 C1242.0,966.5 1240.5,955.7 1241.0,955.0 Z" fill="#3d2015" />
<path d="M1199.0,806.0 C1200.3,807.8 1204.7,815.5 1205.0,818.0 C1205.3,820.5 1203.9,833.9 1203.0,836.0 C1202.1,838.1 1195.3,843.3 1194.0,843.0 C1192.7,842.7 1188.0,834.6 1187.0,832.0 C1186.0,829.4 1182.8,814.8 1182.0,812.0 C1181.2,809.2 1177.0,800.7 1177.0,799.0 C1177.0,797.3 1181.0,792.2 1182.0,792.0 C1183.0,791.8 1187.6,795.8 1189.0,797.0 C1190.4,798.2 1197.7,804.2 1199.0,806.0 Z" fill="#5b3b1f" />
<path d="M1225.1,770.6 C1227.5,769.1 1234.1,768.2 1236.0,768.0 C1237.9,767.8 1246.2,767.7 1248.4,767.9 C1250.6,768.1 1260.3,769.1 1262.1,770.6 C1263.9,772.1 1269.3,783.2 1270.3,785.7 C1271.3,788.2 1275.3,798.4 1274.4,800.0 C1273.5,801.6 1261.7,803.2 1260.0,805.0 C1258.3,806.8 1254.6,819.7 1254.0,822.0 C1253.4,824.3 1255.0,831.6 1253.0,833.0 C1251.0,834.4 1233.8,838.3 1230.0,839.0 C1226.2,839.7 1210.2,842.4 1207.4,841.5 C1204.6,840.6 1197.0,830.5 1196.0,828.0 C1195.0,825.5 1194.7,814.7 1195.0,812.0 C1195.3,809.3 1199.0,798.2 1200.0,796.0 C1201.0,793.8 1205.3,788.1 1207.4,786.0 C1209.5,783.9 1222.7,772.1 1225.1,770.6 Z" fill="#ffffff" />
<path d="M1260.0,803.5 C1260.6,802.8 1273.4,799.8 1274.4,800.0 C1275.4,800.2 1276.1,805.3 1275.5,806.0 C1274.9,806.7 1267.0,811.2 1266.0,811.0 C1265.0,810.8 1259.4,804.2 1260.0,803.5 Z" fill="#5b3b1f" />
<polygon points="1207.4,838.5 1253.0,831.0 1253.5,836.5 1207.4,844.5" fill="#0a0a0c"  stroke="#0a0a0c" stroke-width="0.5" stroke-linejoin="round"/>
<path d="M1224.0,763.0 C1225.3,762.2 1243.5,761.5 1245.0,762.0 C1246.5,762.5 1247.6,770.1 1247.0,771.0 C1246.4,771.9 1237.4,774.8 1236.0,775.0 C1234.6,775.2 1226.8,775.3 1226.0,774.5 C1225.2,773.7 1222.7,763.8 1224.0,763.0 Z" fill="#5b3b1f" />
<path d="M1226,774 Q1237,778 1247,771" fill="none" stroke="#d6d8da" stroke-width="1"/>
<ellipse cx="1228" cy="747.5" rx="16" ry="18" fill="#0a0a0c"/>
<defs><clipPath id="doorglass"><polygon points="1149.1,721.2 1216.1,758.4 1216.1,998.6 1149.1,961.4"/></clipPath></defs>
<polygon points="1149.1,721.2 1216.1,758.4 1216.1,998.6 1149.1,961.4" fill="#787daa" fill-opacity="0.17"/>
<g clip-path="url(#doorglass)">
<ellipse cx="1238" cy="974.5" rx="44" ry="18.5" transform="rotate(-27 1238 974.5)" fill="#8e93ad"/>
<path d="M1207.4,842.0 C1209.5,839.1 1238.8,835.0 1241.0,837.0 C1243.2,839.0 1241.1,865.8 1241.0,872.0 C1240.9,878.2 1239.2,922.8 1239.0,930.0 C1238.8,937.2 1239.5,976.8 1238.0,980.0 C1236.5,983.2 1217.7,981.3 1216.0,978.0 C1214.3,974.7 1212.5,936.5 1212.0,930.0 C1211.5,923.5 1209.3,885.9 1209.0,880.0 C1208.7,874.1 1205.3,844.9 1207.4,842.0 Z" fill="#2d4a70" />
<path d="M1240.0,838.0 C1240.8,835.6 1251.0,832.5 1252.0,834.0 C1253.0,835.5 1254.5,854.3 1255.0,860.0 C1255.5,865.7 1258.5,912.9 1259.0,920.0 C1259.5,927.1 1263.3,963.5 1262.1,966.0 C1260.9,968.5 1242.4,962.4 1241.0,958.0 C1239.6,953.6 1240.6,905.9 1240.5,900.0 C1240.4,894.1 1240.0,874.1 1240.0,870.0 C1240.0,865.9 1239.2,840.4 1240.0,838.0 Z" fill="#1d3252" />
<path d="M1202.0,981.0 C1202.2,980.2 1207.1,976.4 1208.0,976.0 C1208.9,975.6 1214.1,974.9 1216.0,975.0 C1217.9,975.1 1235.5,976.0 1237.0,977.0 C1238.5,978.0 1239.8,988.9 1239.0,990.0 C1238.2,991.1 1227.3,993.6 1225.0,993.5 C1222.7,993.4 1206.5,988.8 1205.0,988.0 C1203.5,987.2 1201.8,981.8 1202.0,981.0 Z" fill="#4a3440" />
<path d="M1241.0,955.0 C1241.5,954.3 1248.5,956.3 1250.0,957.0 C1251.5,957.7 1262.5,963.8 1263.4,965.0 C1264.3,966.2 1264.0,974.1 1263.5,975.0 C1263.0,975.9 1257.4,978.5 1256.0,978.0 C1254.6,977.5 1244.0,969.5 1243.0,968.0 C1242.0,966.5 1240.5,955.7 1241.0,955.0 Z" fill="#4a3440" />
<path d="M1199.0,806.0 C1200.3,807.8 1204.7,815.5 1205.0,818.0 C1205.3,820.5 1203.9,833.9 1203.0,836.0 C1202.1,838.1 1195.3,843.3 1194.0,843.0 C1192.7,842.7 1188.0,834.6 1187.0,832.0 C1186.0,829.4 1182.8,814.8 1182.0,812.0 C1181.2,809.2 1177.0,800.7 1177.0,799.0 C1177.0,797.3 1181.0,792.2 1182.0,792.0 C1183.0,791.8 1187.6,795.8 1189.0,797.0 C1190.4,798.2 1197.7,804.2 1199.0,806.0 Z" fill="#6e4f4a" />
<path d="M1225.1,770.6 C1227.5,769.1 1234.1,768.2 1236.0,768.0 C1237.9,767.8 1246.2,767.7 1248.4,767.9 C1250.6,768.1 1260.3,769.1 1262.1,770.6 C1263.9,772.1 1269.3,783.2 1270.3,785.7 C1271.3,788.2 1275.3,798.4 1274.4,800.0 C1273.5,801.6 1261.7,803.2 1260.0,805.0 C1258.3,806.8 1254.6,819.7 1254.0,822.0 C1253.4,824.3 1255.0,831.6 1253.0,833.0 C1251.0,834.4 1233.8,838.3 1230.0,839.0 C1226.2,839.7 1210.2,842.4 1207.4,841.5 C1204.6,840.6 1197.0,830.5 1196.0,828.0 C1195.0,825.5 1194.7,814.7 1195.0,812.0 C1195.3,809.3 1199.0,798.2 1200.0,796.0 C1201.0,793.8 1205.3,788.1 1207.4,786.0 C1209.5,783.9 1222.7,772.1 1225.1,770.6 Z" fill="#a2a6c8" />
<path d="M1260.0,803.5 C1260.6,802.8 1273.4,799.8 1274.4,800.0 C1275.4,800.2 1276.1,805.3 1275.5,806.0 C1274.9,806.7 1267.0,811.2 1266.0,811.0 C1265.0,810.8 1259.4,804.2 1260.0,803.5 Z" fill="#6e4f4a" />
<polygon points="1207.4,838.5 1253.0,831.0 1253.5,836.5 1207.4,844.5" fill="#2a2c3c"  stroke="#2a2c3c" stroke-width="0.5" stroke-linejoin="round"/>
<path d="M1224.0,763.0 C1225.3,762.2 1243.5,761.5 1245.0,762.0 C1246.5,762.5 1247.6,770.1 1247.0,771.0 C1246.4,771.9 1237.4,774.8 1236.0,775.0 C1234.6,775.2 1226.8,775.3 1226.0,774.5 C1225.2,773.7 1222.7,763.8 1224.0,763.0 Z" fill="#6e4f4a" />
<path d="M1226,774 Q1237,778 1247,771" fill="none" stroke="#8e92b8" stroke-width="1"/>
<ellipse cx="1228" cy="747.5" rx="16" ry="18" fill="#1a1c28"/>
</g>
<g transform="matrix(1,0.554,0,1,1142.7,707.9)">
<path d="M0,0 H83 V257 H0 Z M6.4,9.8 V250 H73.4 V9.8 Z" fill="#a9abae" fill-rule="evenodd"/>
<rect x="0" y="0" width="83" height="2.5" fill="#d4d6d7"/>
<rect x="0" y="0" width="2.5" height="257" fill="#c0c2c4"/>
<rect x="6.4" y="247.5" width="67" height="2.5" fill="#8f95c2"/>
<circle cx="78.5" cy="103.7" r="2.3" fill="#1e2024"/>
<rect x="77" y="108" width="3" height="30" rx="1.4" fill="#1e2024"/>
</g>
</svg></body></html>
